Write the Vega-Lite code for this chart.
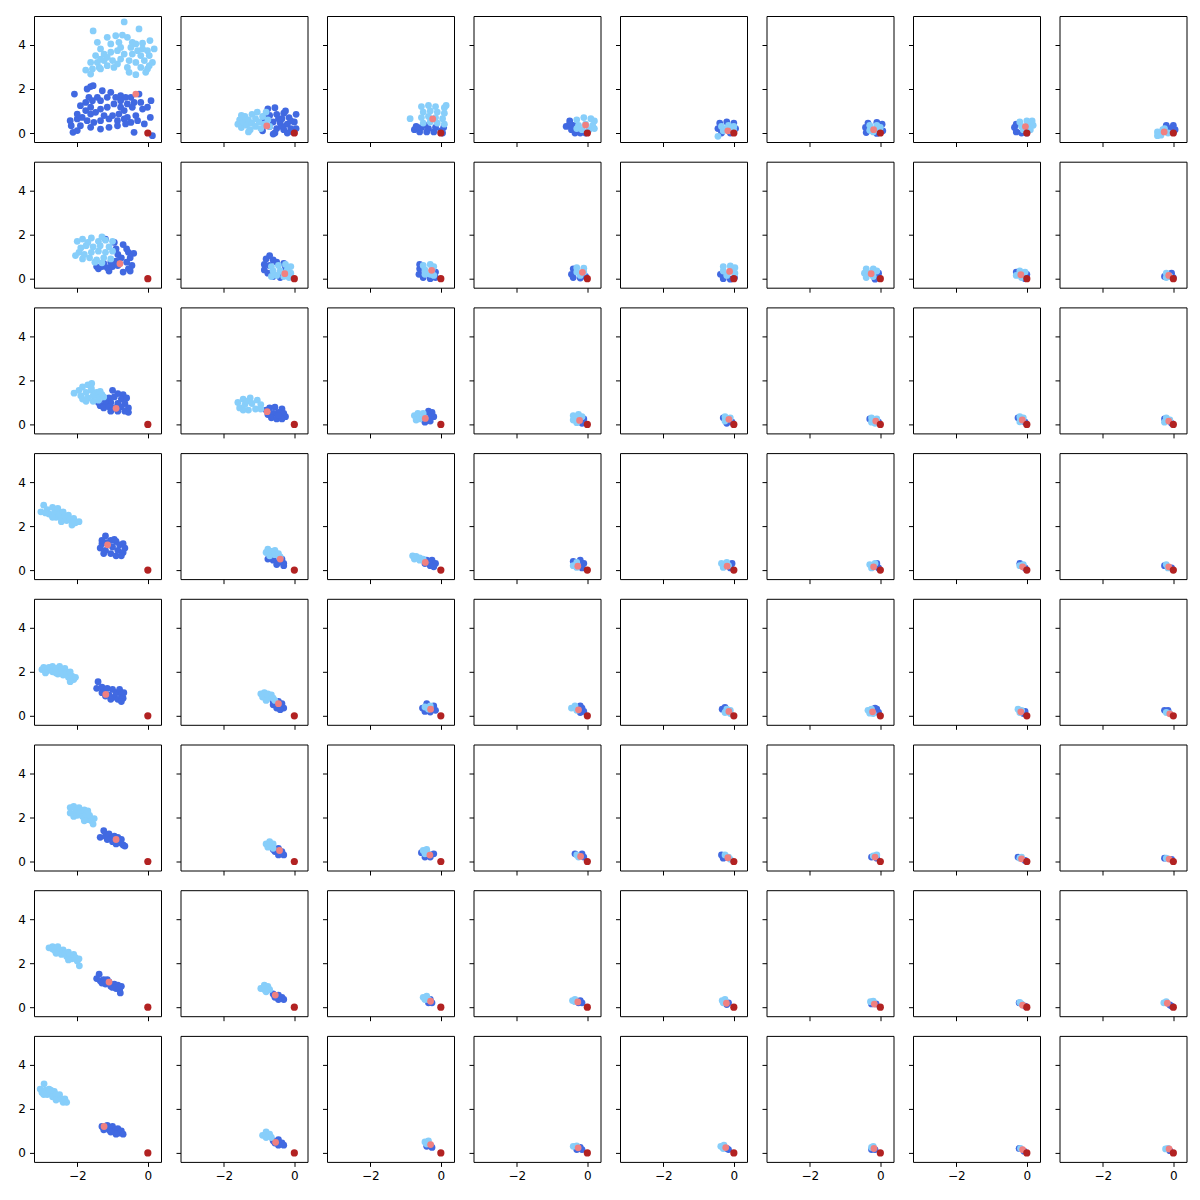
{
"$schema":"https://vega.github.io/schema/vega-lite/v6.json",
"padding":{"left":17,"top":15,"right":5,"bottom":5},
"background":"white",
"config":{"view":{"stroke":"#000","strokeWidth":1,"continuousWidth":127,"continuousHeight":126},"circle":{"opacity":1,"size":46},"range":{"category":["#4169E1","#87CEFA","#B22222","#F08080"]},"axis":{"grid":false,"domain":false,"ticks":true,"tickColor":"#000","tickSize":4.5,"tickWidth":1,"labelColor":"#000","labelFont":"DejaVu Sans","labelFontSize":12,"labelPadding":4}},
"data":{"values":[
{"p":0,"g":"b","x":-2.08,"y":1.77},{"p":0,"g":"b","x":-1.72,"y":2.0},{"p":0,"g":"b","x":-1.62,"y":2.11},{"p":0,"g":"b","x":-1.55,"y":2.15},{"p":0,"g":"b","x":-1.29,"y":1.92},{"p":0,"g":"b","x":-1.05,"y":1.85},{"p":0,"g":"b","x":-1.43,"y":1.62},{"p":0,"g":"b","x":-1.67,"y":1.62},{"p":0,"g":"b","x":-1.91,"y":1.24},{"p":0,"g":"b","x":-1.76,"y":1.39},{"p":0,"g":"b","x":-1.57,"y":1.47},{"p":0,"g":"b","x":-1.34,"y":1.47},{"p":0,"g":"b","x":-1.15,"y":1.62},{"p":0,"g":"b","x":-0.91,"y":1.62},{"p":0,"g":"b","x":-0.77,"y":1.7},{"p":0,"g":"b","x":-0.63,"y":1.62},{"p":0,"g":"b","x":-0.48,"y":1.62},{"p":0,"g":"b","x":-0.25,"y":1.77},{"p":0,"g":"b","x":-0.77,"y":1.47},{"p":0,"g":"b","x":-0.58,"y":1.32},{"p":0,"g":"b","x":-0.39,"y":1.39},{"p":0,"g":"b","x":-0.2,"y":1.39},{"p":0,"g":"b","x":0.09,"y":1.47},{"p":0,"g":"b","x":-0.96,"y":1.32},{"p":0,"g":"b","x":-1.15,"y":1.17},{"p":0,"g":"b","x":-1.34,"y":1.09},{"p":0,"g":"b","x":-1.62,"y":1.17},{"p":0,"g":"b","x":-1.76,"y":1.02},{"p":0,"g":"b","x":-1.48,"y":0.94},{"p":0,"g":"b","x":-1.24,"y":0.79},{"p":0,"g":"b","x":-1.0,"y":0.79},{"p":0,"g":"b","x":-0.82,"y":0.86},{"p":0,"g":"b","x":-0.67,"y":1.02},{"p":0,"g":"b","x":-0.44,"y":1.17},{"p":0,"g":"b","x":-0.15,"y":1.09},{"p":0,"g":"b","x":-0.01,"y":1.17},{"p":0,"g":"b","x":-0.58,"y":0.71},{"p":0,"g":"b","x":-0.34,"y":0.79},{"p":0,"g":"b","x":0.07,"y":0.71},{"p":0,"g":"b","x":-2.2,"y":0.56},{"p":0,"g":"b","x":-2.0,"y":0.64},{"p":0,"g":"b","x":-1.86,"y":0.71},{"p":0,"g":"b","x":-1.72,"y":0.56},{"p":0,"g":"b","x":-1.53,"y":0.48},{"p":0,"g":"b","x":-1.34,"y":0.56},{"p":0,"g":"b","x":-1.1,"y":0.64},{"p":0,"g":"b","x":-0.86,"y":0.56},{"p":0,"g":"b","x":-0.67,"y":0.64},{"p":0,"g":"b","x":-0.48,"y":0.48},{"p":0,"g":"b","x":-0.29,"y":0.56},{"p":0,"g":"b","x":-0.1,"y":0.41},{"p":0,"g":"b","x":-2.17,"y":0.33},{"p":0,"g":"b","x":-1.91,"y":0.33},{"p":0,"g":"b","x":-1.62,"y":0.26},{"p":0,"g":"b","x":-1.34,"y":0.18},{"p":0,"g":"b","x":-1.1,"y":0.26},{"p":0,"g":"b","x":-0.86,"y":0.33},{"p":0,"g":"b","x":-0.63,"y":0.41},{"p":0,"g":"b","x":-2.12,"y":0.03},{"p":0,"g":"b","x":-2.0,"y":0.11},{"p":0,"g":"b","x":-0.39,"y":0.03},{"p":0,"g":"b","x":0.13,"y":-0.12},{"p":0,"g":"b","x":-0.77,"y":1.17},{"p":0,"g":"b","x":-2.0,"y":0.86},{"p":0,"g":"b","x":-1.62,"y":0.86},
{"p":0,"g":"l","x":-1.55,"y":4.64},{"p":0,"g":"l","x":-0.67,"y":5.05},{"p":0,"g":"l","x":-0.25,"y":4.73},{"p":0,"g":"l","x":-1.43,"y":4.12},{"p":0,"g":"l","x":-1.15,"y":4.35},{"p":0,"g":"l","x":-0.91,"y":4.42},{"p":0,"g":"l","x":-0.72,"y":4.45},{"p":0,"g":"l","x":-0.58,"y":4.35},{"p":0,"g":"l","x":-0.34,"y":4.05},{"p":0,"g":"l","x":-0.15,"y":4.08},{"p":0,"g":"l","x":0.06,"y":4.2},{"p":0,"g":"l","x":0.18,"y":3.82},{"p":0,"g":"l","x":-1.34,"y":3.82},{"p":0,"g":"l","x":-1.05,"y":4.05},{"p":0,"g":"l","x":-0.82,"y":4.12},{"p":0,"g":"l","x":-0.48,"y":3.89},{"p":0,"g":"l","x":-0.29,"y":3.74},{"p":0,"g":"l","x":-0.01,"y":3.74},{"p":0,"g":"l","x":-1.48,"y":3.52},{"p":0,"g":"l","x":-1.24,"y":3.59},{"p":0,"g":"l","x":-1.05,"y":3.67},{"p":0,"g":"l","x":-0.86,"y":3.74},{"p":0,"g":"l","x":-0.67,"y":3.59},{"p":0,"g":"l","x":-0.44,"y":3.59},{"p":0,"g":"l","x":-0.2,"y":3.52},{"p":0,"g":"l","x":0.04,"y":3.52},{"p":0,"g":"l","x":-1.62,"y":3.21},{"p":0,"g":"l","x":-1.43,"y":3.21},{"p":0,"g":"l","x":-1.24,"y":3.29},{"p":0,"g":"l","x":-1.0,"y":3.29},{"p":0,"g":"l","x":-0.77,"y":3.36},{"p":0,"g":"l","x":-0.53,"y":3.29},{"p":0,"g":"l","x":-0.34,"y":3.21},{"p":0,"g":"l","x":-0.1,"y":3.29},{"p":0,"g":"l","x":0.13,"y":3.21},{"p":0,"g":"l","x":-1.76,"y":2.86},{"p":0,"g":"l","x":-1.57,"y":2.91},{"p":0,"g":"l","x":-1.38,"y":2.98},{"p":0,"g":"l","x":-1.15,"y":3.06},{"p":0,"g":"l","x":-0.96,"y":2.98},{"p":0,"g":"l","x":-0.58,"y":2.98},{"p":0,"g":"l","x":-0.2,"y":2.98},{"p":0,"g":"l","x":-0.01,"y":2.91},{"p":0,"g":"l","x":-1.62,"y":2.68},{"p":0,"g":"l","x":-1.34,"y":2.91},{"p":0,"g":"l","x":-0.34,"y":2.65},{"p":0,"g":"l","x":-0.53,"y":2.76},{"p":0,"g":"l","x":-0.86,"y":3.14},{"p":0,"g":"l","x":-0.06,"y":2.76},{"p":0,"g":"l","x":0.04,"y":3.06},{"p":0,"g":"l","x":-1.15,"y":3.44},{"p":0,"g":"l","x":-0.77,"y":3.89},{"p":0,"g":"l","x":-0.44,"y":4.12},{"p":0,"g":"l","x":-0.15,"y":3.82},{"p":0,"g":"l","x":-1.34,"y":3.36},
{"p":0,"g":"s","x":-0.34,"y":1.77},{"p":0,"g":"r","x":0,"y":0},
{"p":1,"g":"b","x":-0.75,"y":1.1},{"p":1,"g":"b","x":-0.55,"y":1.15},{"p":1,"g":"b","x":-0.3,"y":0.9},{"p":1,"g":"b","x":0.05,"y":0.85},{"p":1,"g":"b","x":-0.85,"y":0.6},{"p":1,"g":"b","x":-0.7,"y":0.8},{"p":1,"g":"b","x":-0.5,"y":0.85},{"p":1,"g":"b","x":-0.35,"y":0.65},{"p":1,"g":"b","x":-0.15,"y":0.7},{"p":1,"g":"b","x":-0.6,"y":0.5},{"p":1,"g":"b","x":-0.4,"y":0.45},{"p":1,"g":"b","x":-0.2,"y":0.4},{"p":1,"g":"b","x":0.0,"y":0.5},{"p":1,"g":"b","x":-0.7,"y":0.3},{"p":1,"g":"b","x":-0.5,"y":0.2},{"p":1,"g":"b","x":-0.3,"y":0.15},{"p":1,"g":"b","x":-0.1,"y":0.2},{"p":1,"g":"b","x":0.05,"y":0.2},{"p":1,"g":"b","x":-0.55,"y":0.0},{"p":1,"g":"b","x":-0.2,"y":0.0},{"p":1,"g":"b","x":-0.05,"y":0.05},{"p":1,"g":"b","x":-0.9,"y":0.1},{"p":1,"g":"b","x":-0.45,"y":0.65},{"p":1,"g":"b","x":-0.25,"y":1.0},{"p":1,"g":"b","x":-0.1,"y":0.55},{"p":1,"g":"b","x":-0.6,"y":-0.05},{"p":1,"g":"b","x":-0.35,"y":0.3},{"p":1,"g":"b","x":-0.8,"y":0.85},
{"p":1,"g":"l","x":-1.6,"y":0.4},{"p":1,"g":"l","x":-1.55,"y":0.6},{"p":1,"g":"l","x":-1.5,"y":0.25},{"p":1,"g":"l","x":-1.45,"y":0.5},{"p":1,"g":"l","x":-1.4,"y":0.75},{"p":1,"g":"l","x":-1.35,"y":0.35},{"p":1,"g":"l","x":-1.3,"y":0.6},{"p":1,"g":"l","x":-1.25,"y":0.15},{"p":1,"g":"l","x":-1.2,"y":0.85},{"p":1,"g":"l","x":-1.2,"y":0.45},{"p":1,"g":"l","x":-1.1,"y":0.3},{"p":1,"g":"l","x":-1.1,"y":0.65},{"p":1,"g":"l","x":-1.05,"y":0.95},{"p":1,"g":"l","x":-1.0,"y":0.5},{"p":1,"g":"l","x":-0.95,"y":0.2},{"p":1,"g":"l","x":-0.9,"y":0.75},{"p":1,"g":"l","x":-0.85,"y":0.4},{"p":1,"g":"l","x":-0.8,"y":0.95},{"p":1,"g":"l","x":-0.75,"y":0.6},{"p":1,"g":"l","x":-0.7,"y":0.3},{"p":1,"g":"l","x":-1.5,"y":0.8},{"p":1,"g":"l","x":-1.3,"y":0.05},
{"p":1,"g":"s","x":-0.78,"y":0.32},{"p":1,"g":"r","x":0,"y":0},
{"p":2,"g":"b","x":-0.75,"y":0.15},{"p":2,"g":"b","x":-0.6,"y":0.05},{"p":2,"g":"b","x":-0.55,"y":0.25},{"p":2,"g":"b","x":-0.4,"y":0.05},{"p":2,"g":"b","x":-0.35,"y":0.2},{"p":2,"g":"b","x":-0.2,"y":0.05},{"p":2,"g":"b","x":-0.15,"y":0.25},{"p":2,"g":"b","x":0.0,"y":0.1},{"p":2,"g":"b","x":0.08,"y":0.25},{"p":2,"g":"b","x":-0.7,"y":0.3},{"p":2,"g":"b","x":-0.45,"y":0.35},{"p":2,"g":"b","x":0.05,"y":0.0},
{"p":2,"g":"l","x":-0.55,"y":1.2},{"p":2,"g":"l","x":-0.35,"y":1.25},{"p":2,"g":"l","x":-0.15,"y":1.2},{"p":2,"g":"l","x":0.1,"y":1.15},{"p":2,"g":"l","x":-0.5,"y":0.95},{"p":2,"g":"l","x":-0.3,"y":1.0},{"p":2,"g":"l","x":-0.1,"y":0.95},{"p":2,"g":"l","x":0.1,"y":0.9},{"p":2,"g":"l","x":-0.55,"y":0.7},{"p":2,"g":"l","x":-0.35,"y":0.75},{"p":2,"g":"l","x":-0.15,"y":0.7},{"p":2,"g":"l","x":0.05,"y":0.65},{"p":2,"g":"l","x":-0.5,"y":0.45},{"p":2,"g":"l","x":-0.3,"y":0.5},{"p":2,"g":"l","x":-0.1,"y":0.45},{"p":2,"g":"l","x":0.1,"y":0.4},{"p":2,"g":"l","x":-0.87,"y":0.65},{"p":2,"g":"l","x":0.15,"y":1.25},
{"p":2,"g":"s","x":-0.23,"y":0.64},{"p":2,"g":"r","x":0,"y":0},
{"p":3,"g":"b","x":-0.6,"y":0.3},{"p":3,"g":"b","x":-0.5,"y":0.55},{"p":3,"g":"b","x":-0.45,"y":0.15},{"p":3,"g":"b","x":-0.4,"y":0.35},{"p":3,"g":"b","x":-0.35,"y":0.0},{"p":3,"g":"b","x":-0.2,"y":0.0},{"p":3,"g":"b","x":-0.05,"y":0.0},{"p":3,"g":"b","x":-0.5,"y":0.4},
{"p":3,"g":"l","x":-0.3,"y":0.6},{"p":3,"g":"l","x":-0.1,"y":0.7},{"p":3,"g":"l","x":0.1,"y":0.65},{"p":3,"g":"l","x":0.2,"y":0.55},{"p":3,"g":"l","x":-0.25,"y":0.35},{"p":3,"g":"l","x":-0.05,"y":0.4},{"p":3,"g":"l","x":0.15,"y":0.35},{"p":3,"g":"l","x":-0.15,"y":0.15},{"p":3,"g":"l","x":0.05,"y":0.15},{"p":3,"g":"l","x":0.2,"y":0.2},{"p":3,"g":"l","x":-0.3,"y":0.2},
{"p":3,"g":"s","x":-0.05,"y":0.36},{"p":3,"g":"r","x":0,"y":0},
{"p":4,"g":"b","x":-0.4,"y":0.45},{"p":4,"g":"b","x":-0.2,"y":0.5},{"p":4,"g":"b","x":0.0,"y":0.45},{"p":4,"g":"b","x":-0.45,"y":0.2},{"p":4,"g":"b","x":0.05,"y":0.2},{"p":4,"g":"b","x":-0.35,"y":0.0},{"p":4,"g":"b","x":-0.1,"y":0.0},
{"p":4,"g":"l","x":-0.35,"y":0.3},{"p":4,"g":"l","x":-0.15,"y":0.35},{"p":4,"g":"l","x":0.0,"y":0.3},{"p":4,"g":"l","x":-0.3,"y":0.1},{"p":4,"g":"l","x":-0.1,"y":0.1},{"p":4,"g":"l","x":0.0,"y":0.1},{"p":4,"g":"l","x":-0.45,"y":-0.15},{"p":4,"g":"l","x":-0.2,"y":0.2},
{"p":4,"g":"s","x":-0.17,"y":0.1},{"p":4,"g":"r","x":0,"y":0},
{"p":5,"g":"b","x":-0.42,"y":0.25},{"p":5,"g":"b","x":-0.35,"y":0.45},{"p":5,"g":"b","x":-0.1,"y":0.48},{"p":5,"g":"b","x":0.05,"y":0.4},{"p":5,"g":"b","x":0.07,"y":0.1},{"p":5,"g":"b","x":-0.4,"y":0.02},{"p":5,"g":"b","x":-0.1,"y":-0.02},
{"p":5,"g":"l","x":-0.3,"y":0.35},{"p":5,"g":"l","x":-0.1,"y":0.35},{"p":5,"g":"l","x":0.0,"y":0.25},{"p":5,"g":"l","x":-0.3,"y":0.12},{"p":5,"g":"l","x":-0.12,"y":0.15},{"p":5,"g":"l","x":-0.2,"y":0.05},
{"p":5,"g":"s","x":-0.19,"y":0.15},{"p":5,"g":"r","x":0,"y":0},
{"p":6,"g":"b","x":-0.35,"y":0.25},{"p":6,"g":"b","x":-0.3,"y":0.05},{"p":6,"g":"b","x":-0.15,"y":0.0},{"p":6,"g":"b","x":0.0,"y":0.0},{"p":6,"g":"b","x":-0.3,"y":0.4},
{"p":6,"g":"l","x":-0.2,"y":0.5},{"p":6,"g":"l","x":0.0,"y":0.55},{"p":6,"g":"l","x":0.15,"y":0.55},{"p":6,"g":"l","x":-0.15,"y":0.3},{"p":6,"g":"l","x":0.05,"y":0.35},{"p":6,"g":"l","x":0.18,"y":0.35},{"p":6,"g":"l","x":0.1,"y":0.15},{"p":6,"g":"l","x":-0.1,"y":0.15},
{"p":6,"g":"s","x":-0.04,"y":0.29},{"p":6,"g":"r","x":0,"y":0},
{"p":7,"g":"b","x":-0.2,"y":0.35},{"p":7,"g":"b","x":0.0,"y":0.35},{"p":7,"g":"b","x":0.05,"y":0.15},{"p":7,"g":"b","x":-0.1,"y":0.2},
{"p":7,"g":"l","x":-0.45,"y":0.05},{"p":7,"g":"l","x":-0.35,"y":-0.1},{"p":7,"g":"l","x":-0.3,"y":0.15},{"p":7,"g":"l","x":-0.15,"y":0.0},{"p":7,"g":"l","x":-0.45,"y":-0.12},{"p":7,"g":"l","x":-0.25,"y":0.2},
{"p":7,"g":"s","x":-0.26,"y":0.05},{"p":7,"g":"r","x":0,"y":0},
{"p":8,"g":"b","x":-1.2,"y":1.8},{"p":8,"g":"b","x":-0.95,"y":1.65},{"p":8,"g":"b","x":-0.7,"y":1.55},{"p":8,"g":"b","x":-0.9,"y":1.35},{"p":8,"g":"b","x":-0.6,"y":1.35},{"p":8,"g":"b","x":-0.85,"y":1.1},{"p":8,"g":"b","x":-0.55,"y":1.2},{"p":8,"g":"b","x":-0.4,"y":1.15},{"p":8,"g":"b","x":-0.75,"y":0.95},{"p":8,"g":"b","x":-0.5,"y":0.95},{"p":8,"g":"b","x":-1.45,"y":0.55},{"p":8,"g":"b","x":-1.3,"y":0.55},{"p":8,"g":"b","x":-1.15,"y":0.5},{"p":8,"g":"b","x":-1.0,"y":0.55},{"p":8,"g":"b","x":-0.85,"y":0.6},{"p":8,"g":"b","x":-0.6,"y":0.75},{"p":8,"g":"b","x":-0.45,"y":0.6},{"p":8,"g":"b","x":-1.4,"y":0.45},{"p":8,"g":"b","x":-1.1,"y":0.35},{"p":8,"g":"b","x":-0.55,"y":0.45},{"p":8,"g":"b","x":-0.7,"y":0.3},{"p":8,"g":"b","x":-0.5,"y":0.35},{"p":8,"g":"b","x":-0.9,"y":0.8},{"p":8,"g":"b","x":-1.05,"y":0.75},{"p":8,"g":"b","x":-1.25,"y":0.7},
{"p":8,"g":"l","x":-2.0,"y":1.7},{"p":8,"g":"l","x":-1.85,"y":1.8},{"p":8,"g":"l","x":-1.6,"y":1.85},{"p":8,"g":"l","x":-1.4,"y":1.7},{"p":8,"g":"l","x":-1.2,"y":1.75},{"p":8,"g":"l","x":-1.0,"y":1.7},{"p":8,"g":"l","x":-2.05,"y":1.05},{"p":8,"g":"l","x":-1.9,"y":1.4},{"p":8,"g":"l","x":-1.75,"y":1.5},{"p":8,"g":"l","x":-1.55,"y":1.45},{"p":8,"g":"l","x":-1.35,"y":1.5},{"p":8,"g":"l","x":-1.1,"y":1.45},{"p":8,"g":"l","x":-1.95,"y":1.2},{"p":8,"g":"l","x":-1.8,"y":1.1},{"p":8,"g":"l","x":-1.6,"y":1.2},{"p":8,"g":"l","x":-1.4,"y":1.25},{"p":8,"g":"l","x":-1.2,"y":1.2},{"p":8,"g":"l","x":-1.0,"y":1.25},{"p":8,"g":"l","x":-1.85,"y":0.9},{"p":8,"g":"l","x":-1.65,"y":0.95},{"p":8,"g":"l","x":-1.45,"y":0.85},{"p":8,"g":"l","x":-1.25,"y":0.95},{"p":8,"g":"l","x":-1.05,"y":0.9},{"p":8,"g":"l","x":-1.5,"y":0.75},{"p":8,"g":"l","x":-1.3,"y":0.72},{"p":8,"g":"l","x":-1.7,"y":1.65},{"p":8,"g":"l","x":-1.3,"y":1.9},
{"p":8,"g":"s","x":-0.79,"y":0.68},{"p":8,"g":"r","x":0,"y":0},
{"p":9,"g":"b","x":-0.85,"y":0.65},{"p":9,"g":"b","x":-0.8,"y":0.9},{"p":9,"g":"b","x":-0.7,"y":1.05},{"p":9,"g":"b","x":-0.6,"y":0.85},{"p":9,"g":"b","x":-0.85,"y":0.4},{"p":9,"g":"b","x":-0.7,"y":0.6},{"p":9,"g":"b","x":-0.5,"y":0.75},{"p":9,"g":"b","x":-0.3,"y":0.7},{"p":9,"g":"b","x":-0.75,"y":0.25},{"p":9,"g":"b","x":-0.6,"y":0.1},{"p":9,"g":"b","x":-0.4,"y":0.05},{"p":9,"g":"b","x":-0.25,"y":0.5},
{"p":9,"g":"l","x":-0.65,"y":0.55},{"p":9,"g":"l","x":-0.45,"y":0.6},{"p":9,"g":"l","x":-0.25,"y":0.65},{"p":9,"g":"l","x":-0.1,"y":0.55},{"p":9,"g":"l","x":-0.6,"y":0.35},{"p":9,"g":"l","x":-0.4,"y":0.35},{"p":9,"g":"l","x":-0.2,"y":0.4},{"p":9,"g":"l","x":-0.1,"y":0.25},{"p":9,"g":"l","x":-0.5,"y":0.15},{"p":9,"g":"l","x":-0.3,"y":0.1},{"p":9,"g":"l","x":-0.15,"y":0.05},{"p":9,"g":"l","x":-0.65,"y":0.1},
{"p":9,"g":"s","x":-0.27,"y":0.23},{"p":9,"g":"r","x":0,"y":0},
{"p":10,"g":"b","x":-0.62,"y":0.2},{"p":10,"g":"b","x":-0.6,"y":0.45},{"p":10,"g":"b","x":-0.5,"y":0.05},{"p":10,"g":"b","x":-0.3,"y":0.0},{"p":10,"g":"b","x":-0.15,"y":0.05},{"p":10,"g":"b","x":-0.6,"y":0.65},{"p":10,"g":"b","x":-0.15,"y":0.3},
{"p":10,"g":"l","x":-0.5,"y":0.6},{"p":10,"g":"l","x":-0.3,"y":0.65},{"p":10,"g":"l","x":-0.2,"y":0.55},{"p":10,"g":"l","x":-0.45,"y":0.4},{"p":10,"g":"l","x":-0.25,"y":0.4},{"p":10,"g":"l","x":-0.45,"y":0.2},{"p":10,"g":"l","x":-0.3,"y":0.2},{"p":10,"g":"l","x":-0.2,"y":0.15},
{"p":10,"g":"s","x":-0.26,"y":0.38},{"p":10,"g":"r","x":0,"y":0},
{"p":11,"g":"b","x":-0.45,"y":0.2},{"p":11,"g":"b","x":-0.4,"y":0.05},{"p":11,"g":"b","x":-0.2,"y":0.03},{"p":11,"g":"b","x":-0.05,"y":0.1},{"p":11,"g":"b","x":-0.4,"y":0.45},
{"p":11,"g":"l","x":-0.3,"y":0.5},{"p":11,"g":"l","x":-0.1,"y":0.48},{"p":11,"g":"l","x":-0.3,"y":0.3},{"p":11,"g":"l","x":-0.1,"y":0.3},{"p":11,"g":"l","x":-0.2,"y":0.15},
{"p":11,"g":"s","x":-0.14,"y":0.29},{"p":11,"g":"r","x":0,"y":0},
{"p":12,"g":"b","x":-0.38,"y":0.2},{"p":12,"g":"b","x":-0.3,"y":0.0},{"p":12,"g":"b","x":-0.1,"y":-0.02},{"p":12,"g":"b","x":0.02,"y":0.05},
{"p":12,"g":"l","x":-0.3,"y":0.55},{"p":12,"g":"l","x":-0.1,"y":0.58},{"p":12,"g":"l","x":0.03,"y":0.5},{"p":12,"g":"l","x":-0.3,"y":0.35},{"p":12,"g":"l","x":-0.1,"y":0.35},{"p":12,"g":"l","x":0.03,"y":0.25},{"p":12,"g":"l","x":-0.2,"y":0.15},
{"p":12,"g":"s","x":-0.12,"y":0.33},{"p":12,"g":"r","x":0,"y":0},
{"p":13,"g":"b","x":-0.05,"y":0.05},{"p":13,"g":"b","x":-0.15,"y":-0.02},{"p":13,"g":"b","x":-0.05,"y":0.25},
{"p":13,"g":"l","x":-0.45,"y":0.25},{"p":13,"g":"l","x":-0.4,"y":0.45},{"p":13,"g":"l","x":-0.2,"y":0.45},{"p":13,"g":"l","x":-0.3,"y":0.25},{"p":13,"g":"l","x":-0.1,"y":0.35},{"p":13,"g":"l","x":-0.4,"y":0.05},{"p":13,"g":"l","x":-0.2,"y":0.1},
{"p":13,"g":"s","x":-0.26,"y":0.23},{"p":13,"g":"r","x":0,"y":0},
{"p":14,"g":"b","x":-0.05,"y":0.0},{"p":14,"g":"b","x":0.0,"y":0.2},{"p":14,"g":"b","x":-0.3,"y":0.3},
{"p":14,"g":"l","x":-0.3,"y":0.15},{"p":14,"g":"l","x":-0.2,"y":0.35},{"p":14,"g":"l","x":-0.05,"y":0.3},{"p":14,"g":"l","x":-0.15,"y":0.05},
{"p":14,"g":"s","x":-0.17,"y":0.18},{"p":14,"g":"r","x":0,"y":0},
{"p":15,"g":"b","x":-0.25,"y":0.1},{"p":15,"g":"b","x":0.0,"y":0.05},{"p":15,"g":"b","x":-0.05,"y":0.25},
{"p":15,"g":"l","x":-0.2,"y":0.25},{"p":15,"g":"l","x":-0.1,"y":0.1},{"p":15,"g":"l","x":-0.2,"y":0.05},
{"p":15,"g":"s","x":-0.13,"y":0.15},{"p":15,"g":"r","x":0,"y":0},
{"p":16,"g":"b","x":-1.0,"y":1.55},{"p":16,"g":"b","x":-0.85,"y":1.4},{"p":16,"g":"b","x":-0.7,"y":1.35},{"p":16,"g":"b","x":-1.1,"y":1.2},{"p":16,"g":"b","x":-0.95,"y":1.25},{"p":16,"g":"b","x":-0.75,"y":1.15},{"p":16,"g":"b","x":-0.6,"y":1.2},{"p":16,"g":"b","x":-1.35,"y":0.85},{"p":16,"g":"b","x":-1.2,"y":0.95},{"p":16,"g":"b","x":-1.05,"y":1.0},{"p":16,"g":"b","x":-0.85,"y":0.95},{"p":16,"g":"b","x":-0.65,"y":0.95},{"p":16,"g":"b","x":-0.55,"y":0.75},{"p":16,"g":"b","x":-1.25,"y":0.75},{"p":16,"g":"b","x":-1.1,"y":0.8},{"p":16,"g":"b","x":-0.95,"y":0.75},{"p":16,"g":"b","x":-0.75,"y":0.8},{"p":16,"g":"b","x":-1.05,"y":0.6},{"p":16,"g":"b","x":-0.85,"y":0.6},{"p":16,"g":"b","x":-0.65,"y":0.6},{"p":16,"g":"b","x":-0.55,"y":0.55},{"p":16,"g":"b","x":-1.2,"y":1.05},{"p":16,"g":"b","x":-1.4,"y":1.0},
{"p":16,"g":"l","x":-2.09,"y":1.42},{"p":16,"g":"l","x":-1.95,"y":1.55},{"p":16,"g":"l","x":-1.85,"y":1.7},{"p":16,"g":"l","x":-1.7,"y":1.8},{"p":16,"g":"l","x":-1.59,"y":1.86},{"p":16,"g":"l","x":-1.9,"y":1.3},{"p":16,"g":"l","x":-1.75,"y":1.45},{"p":16,"g":"l","x":-1.6,"y":1.55},{"p":16,"g":"l","x":-1.45,"y":1.45},{"p":16,"g":"l","x":-1.3,"y":1.35},{"p":16,"g":"l","x":-1.85,"y":1.15},{"p":16,"g":"l","x":-1.7,"y":1.2},{"p":16,"g":"l","x":-1.55,"y":1.3},{"p":16,"g":"l","x":-1.4,"y":1.2},{"p":16,"g":"l","x":-1.25,"y":1.25},{"p":16,"g":"l","x":-1.75,"y":1.05},{"p":16,"g":"l","x":-1.55,"y":1.05},{"p":16,"g":"l","x":-1.4,"y":1.1},{"p":16,"g":"l","x":-1.6,"y":1.65},{"p":16,"g":"l","x":-1.35,"y":1.5},
{"p":16,"g":"s","x":-0.9,"y":0.73},{"p":16,"g":"r","x":0,"y":0},
{"p":17,"g":"b","x":-0.8,"y":0.65},{"p":17,"g":"b","x":-0.7,"y":0.75},{"p":17,"g":"b","x":-0.55,"y":0.78},{"p":17,"g":"b","x":-0.35,"y":0.7},{"p":17,"g":"b","x":-0.75,"y":0.45},{"p":17,"g":"b","x":-0.6,"y":0.5},{"p":17,"g":"b","x":-0.45,"y":0.55},{"p":17,"g":"b","x":-0.3,"y":0.5},{"p":17,"g":"b","x":-0.25,"y":0.35},{"p":17,"g":"b","x":-0.65,"y":0.3},{"p":17,"g":"b","x":-0.5,"y":0.25},{"p":17,"g":"b","x":-0.35,"y":0.25},{"p":17,"g":"b","x":-0.45,"y":0.4},
{"p":17,"g":"l","x":-1.6,"y":1.0},{"p":17,"g":"l","x":-1.55,"y":0.75},{"p":17,"g":"l","x":-1.45,"y":1.15},{"p":17,"g":"l","x":-1.4,"y":0.9},{"p":17,"g":"l","x":-1.3,"y":0.65},{"p":17,"g":"l","x":-1.25,"y":1.2},{"p":17,"g":"l","x":-1.2,"y":0.95},{"p":17,"g":"l","x":-1.1,"y":0.7},{"p":17,"g":"l","x":-1.05,"y":1.1},{"p":17,"g":"l","x":-0.95,"y":0.9},{"p":17,"g":"l","x":-1.45,"y":0.65},{"p":17,"g":"l","x":-0.95,"y":0.7},{"p":17,"g":"l","x":-1.35,"y":1.05},
{"p":17,"g":"s","x":-0.77,"y":0.58},{"p":17,"g":"r","x":0,"y":0},
{"p":18,"g":"b","x":-0.35,"y":0.6},{"p":18,"g":"b","x":-0.25,"y":0.55},{"p":18,"g":"b","x":-0.2,"y":0.35},{"p":18,"g":"b","x":-0.3,"y":0.15},{"p":18,"g":"b","x":-0.45,"y":0.1},{"p":18,"g":"b","x":-0.35,"y":0.4},
{"p":18,"g":"l","x":-0.75,"y":0.4},{"p":18,"g":"l","x":-0.65,"y":0.5},{"p":18,"g":"l","x":-0.5,"y":0.5},{"p":18,"g":"l","x":-0.6,"y":0.25},{"p":18,"g":"l","x":-0.45,"y":0.3},{"p":18,"g":"l","x":-0.7,"y":0.2},
{"p":18,"g":"s","x":-0.44,"y":0.27},{"p":18,"g":"r","x":0,"y":0},
{"p":19,"g":"b","x":-0.1,"y":0.25},{"p":19,"g":"b","x":-0.15,"y":0.05},
{"p":19,"g":"l","x":-0.4,"y":0.4},{"p":19,"g":"l","x":-0.25,"y":0.45},{"p":19,"g":"l","x":-0.4,"y":0.2},{"p":19,"g":"l","x":-0.25,"y":0.2},{"p":19,"g":"l","x":-0.15,"y":0.35},{"p":19,"g":"l","x":-0.3,"y":0.08},
{"p":19,"g":"s","x":-0.22,"y":0.18},{"p":19,"g":"r","x":0,"y":0},
{"p":20,"g":"b","x":-0.3,"y":0.3},{"p":20,"g":"b","x":-0.05,"y":0.1},{"p":20,"g":"b","x":-0.2,"y":0.05},
{"p":20,"g":"l","x":-0.25,"y":0.35},{"p":20,"g":"l","x":-0.1,"y":0.3},{"p":20,"g":"l","x":-0.25,"y":0.15},
{"p":20,"g":"s","x":-0.14,"y":0.23},{"p":20,"g":"r","x":0,"y":0},
{"p":21,"g":"b","x":-0.3,"y":0.25},{"p":21,"g":"b","x":-0.05,"y":0.1},
{"p":21,"g":"l","x":-0.25,"y":0.3},{"p":21,"g":"l","x":-0.1,"y":0.25},{"p":21,"g":"l","x":-0.25,"y":0.1},{"p":21,"g":"l","x":-0.15,"y":0.05},
{"p":21,"g":"s","x":-0.13,"y":0.15},{"p":21,"g":"r","x":0,"y":0},
{"p":22,"g":"b","x":-0.05,"y":0.1},{"p":22,"g":"b","x":-0.25,"y":0.3},
{"p":22,"g":"l","x":-0.2,"y":0.35},{"p":22,"g":"l","x":-0.1,"y":0.3},{"p":22,"g":"l","x":-0.2,"y":0.12},
{"p":22,"g":"s","x":-0.13,"y":0.2},{"p":22,"g":"r","x":0,"y":0},
{"p":23,"g":"b","x":-0.25,"y":0.25},{"p":23,"g":"b","x":-0.05,"y":0.05},
{"p":23,"g":"l","x":-0.2,"y":0.3},{"p":23,"g":"l","x":-0.1,"y":0.2},{"p":23,"g":"l","x":-0.25,"y":0.1},
{"p":23,"g":"s","x":-0.13,"y":0.15},{"p":23,"g":"r","x":0,"y":0},
{"p":24,"g":"b","x":-1.35,"y":1.0},{"p":24,"g":"b","x":-1.3,"y":1.2},{"p":24,"g":"b","x":-1.2,"y":1.55},{"p":24,"g":"b","x":-1.2,"y":0.9},{"p":24,"g":"b","x":-1.15,"y":1.25},{"p":24,"g":"b","x":-1.05,"y":1.35},{"p":24,"g":"b","x":-1.05,"y":0.75},{"p":24,"g":"b","x":-1.0,"y":1.05},{"p":24,"g":"b","x":-0.9,"y":1.3},{"p":24,"g":"b","x":-0.9,"y":0.65},{"p":24,"g":"b","x":-0.85,"y":0.9},{"p":24,"g":"b","x":-0.8,"y":1.15},{"p":24,"g":"b","x":-0.7,"y":1.2},{"p":24,"g":"b","x":-0.7,"y":0.8},{"p":24,"g":"b","x":-0.65,"y":1.0},{"p":24,"g":"b","x":-1.25,"y":0.75},{"p":24,"g":"b","x":-0.95,"y":1.4},{"p":24,"g":"b","x":-0.75,"y":0.65},{"p":24,"g":"b","x":-1.3,"y":1.35},
{"p":24,"g":"l","x":-3.03,"y":2.65},{"p":24,"g":"l","x":-2.95,"y":2.95},{"p":24,"g":"l","x":-2.85,"y":2.75},{"p":24,"g":"l","x":-2.8,"y":2.55},{"p":24,"g":"l","x":-2.7,"y":2.85},{"p":24,"g":"l","x":-2.65,"y":2.6},{"p":24,"g":"l","x":-2.6,"y":2.4},{"p":24,"g":"l","x":-2.55,"y":2.8},{"p":24,"g":"l","x":-2.5,"y":2.55},{"p":24,"g":"l","x":-2.45,"y":2.35},{"p":24,"g":"l","x":-2.4,"y":2.65},{"p":24,"g":"l","x":-2.35,"y":2.45},{"p":24,"g":"l","x":-2.3,"y":2.25},{"p":24,"g":"l","x":-2.25,"y":2.5},{"p":24,"g":"l","x":-2.2,"y":2.3},{"p":24,"g":"l","x":-2.1,"y":2.35},{"p":24,"g":"l","x":-2.05,"y":2.15},{"p":24,"g":"l","x":-1.95,"y":2.2},{"p":24,"g":"l","x":-2.7,"y":2.4},{"p":24,"g":"l","x":-2.9,"y":2.6},{"p":24,"g":"l","x":-2.45,"y":2.2},{"p":24,"g":"l","x":-2.15,"y":2.05},
{"p":24,"g":"s","x":-1.14,"y":1.15},{"p":24,"g":"r","x":0,"y":0},
{"p":25,"g":"b","x":-0.75,"y":0.5},{"p":25,"g":"b","x":-0.6,"y":0.45},{"p":25,"g":"b","x":-0.45,"y":0.35},{"p":25,"g":"b","x":-0.3,"y":0.3},{"p":25,"g":"b","x":-0.35,"y":0.5},{"p":25,"g":"b","x":-0.5,"y":0.25},{"p":25,"g":"b","x":-0.3,"y":0.2},{"p":25,"g":"b","x":-0.6,"y":0.55},
{"p":25,"g":"l","x":-0.8,"y":0.8},{"p":25,"g":"l","x":-0.75,"y":0.95},{"p":25,"g":"l","x":-0.65,"y":0.85},{"p":25,"g":"l","x":-0.55,"y":0.9},{"p":25,"g":"l","x":-0.7,"y":0.65},{"p":25,"g":"l","x":-0.55,"y":0.7},{"p":25,"g":"l","x":-0.45,"y":0.75},{"p":25,"g":"l","x":-0.4,"y":0.6},
{"p":25,"g":"s","x":-0.4,"y":0.5},{"p":25,"g":"r","x":0,"y":0},
{"p":26,"g":"b","x":-0.4,"y":0.45},{"p":26,"g":"b","x":-0.25,"y":0.45},{"p":26,"g":"b","x":-0.15,"y":0.3},{"p":26,"g":"b","x":-0.3,"y":0.2},{"p":26,"g":"b","x":-0.2,"y":0.15},{"p":26,"g":"b","x":-0.45,"y":0.3},
{"p":26,"g":"l","x":-0.8,"y":0.65},{"p":26,"g":"l","x":-0.7,"y":0.62},{"p":26,"g":"l","x":-0.6,"y":0.55},{"p":26,"g":"l","x":-0.5,"y":0.5},{"p":26,"g":"l","x":-0.75,"y":0.5},{"p":26,"g":"l","x":-0.6,"y":0.45},
{"p":26,"g":"s","x":-0.44,"y":0.35},{"p":26,"g":"r","x":0,"y":0},
{"p":27,"g":"b","x":-0.4,"y":0.4},{"p":27,"g":"b","x":-0.2,"y":0.45},{"p":27,"g":"b","x":-0.1,"y":0.3},{"p":27,"g":"b","x":-0.15,"y":0.1},
{"p":27,"g":"l","x":-0.4,"y":0.2},{"p":27,"g":"l","x":-0.3,"y":0.35},{"p":27,"g":"l","x":-0.3,"y":0.12},
{"p":27,"g":"s","x":-0.27,"y":0.18},{"p":27,"g":"r","x":0,"y":0},
{"p":28,"g":"b","x":-0.1,"y":0.1},{"p":28,"g":"b","x":-0.05,"y":0.3},
{"p":28,"g":"l","x":-0.35,"y":0.3},{"p":28,"g":"l","x":-0.2,"y":0.35},{"p":28,"g":"l","x":-0.3,"y":0.12},{"p":28,"g":"l","x":-0.15,"y":0.2},
{"p":28,"g":"s","x":-0.19,"y":0.18},{"p":28,"g":"r","x":0,"y":0},
{"p":29,"g":"b","x":-0.05,"y":0.1},{"p":29,"g":"b","x":-0.1,"y":0.3},
{"p":29,"g":"l","x":-0.3,"y":0.25},{"p":29,"g":"l","x":-0.25,"y":0.1},{"p":29,"g":"l","x":-0.15,"y":0.3},
{"p":29,"g":"s","x":-0.19,"y":0.15},{"p":29,"g":"r","x":0,"y":0},
{"p":30,"g":"b","x":-0.05,"y":0.1},{"p":30,"g":"b","x":-0.2,"y":0.3},
{"p":30,"g":"l","x":-0.2,"y":0.2},{"p":30,"g":"l","x":-0.1,"y":0.25},
{"p":30,"g":"s","x":-0.12,"y":0.15},{"p":30,"g":"r","x":0,"y":0},
{"p":31,"g":"b","x":-0.25,"y":0.2},{"p":31,"g":"b","x":-0.05,"y":0.1},
{"p":31,"g":"l","x":-0.2,"y":0.25},{"p":31,"g":"l","x":-0.15,"y":0.1},
{"p":31,"g":"s","x":-0.13,"y":0.15},{"p":31,"g":"r","x":0,"y":0},
{"p":32,"g":"b","x":-1.41,"y":1.55},{"p":32,"g":"b","x":-1.45,"y":1.25},{"p":32,"g":"b","x":-1.3,"y":1.3},{"p":32,"g":"b","x":-1.25,"y":1.1},{"p":32,"g":"b","x":-1.15,"y":1.25},{"p":32,"g":"b","x":-1.1,"y":0.95},{"p":32,"g":"b","x":-1.0,"y":1.2},{"p":32,"g":"b","x":-0.95,"y":0.85},{"p":32,"g":"b","x":-0.9,"y":1.05},{"p":32,"g":"b","x":-0.8,"y":1.2},{"p":32,"g":"b","x":-0.75,"y":0.95},{"p":32,"g":"b","x":-0.7,"y":0.8},{"p":32,"g":"b","x":-0.68,"y":1.05},{"p":32,"g":"b","x":-1.2,"y":0.9},{"p":32,"g":"b","x":-1.05,"y":0.75},{"p":32,"g":"b","x":-0.85,"y":0.75},{"p":32,"g":"b","x":-0.75,"y":0.65},{"p":32,"g":"b","x":-1.3,"y":1.05},
{"p":32,"g":"l","x":-3.0,"y":2.1},{"p":32,"g":"l","x":-2.95,"y":2.2},{"p":32,"g":"l","x":-2.85,"y":2.05},{"p":32,"g":"l","x":-2.8,"y":2.2},{"p":32,"g":"l","x":-2.7,"y":2.25},{"p":32,"g":"l","x":-2.7,"y":2.0},{"p":32,"g":"l","x":-2.6,"y":2.15},{"p":32,"g":"l","x":-2.55,"y":1.9},{"p":32,"g":"l","x":-2.5,"y":2.25},{"p":32,"g":"l","x":-2.45,"y":2.05},{"p":32,"g":"l","x":-2.4,"y":1.85},{"p":32,"g":"l","x":-2.35,"y":2.15},{"p":32,"g":"l","x":-2.3,"y":1.95},{"p":32,"g":"l","x":-2.25,"y":1.75},{"p":32,"g":"l","x":-2.2,"y":2.0},{"p":32,"g":"l","x":-2.15,"y":1.8},{"p":32,"g":"l","x":-2.1,"y":1.65},{"p":32,"g":"l","x":-2.05,"y":1.75},{"p":32,"g":"l","x":-2.6,"y":1.95},{"p":32,"g":"l","x":-2.9,"y":1.95},{"p":32,"g":"l","x":-2.2,"y":1.55},
{"p":32,"g":"s","x":-1.19,"y":0.97},{"p":32,"g":"r","x":0,"y":0},
{"p":33,"g":"b","x":-0.6,"y":0.5},{"p":33,"g":"b","x":-0.45,"y":0.65},{"p":33,"g":"b","x":-0.35,"y":0.55},{"p":33,"g":"b","x":-0.3,"y":0.35},{"p":33,"g":"b","x":-0.5,"y":0.35},{"p":33,"g":"b","x":-0.4,"y":0.28},{"p":33,"g":"b","x":-0.6,"y":0.65},
{"p":33,"g":"l","x":-0.95,"y":1.0},{"p":33,"g":"l","x":-0.85,"y":1.05},{"p":33,"g":"l","x":-0.75,"y":1.0},{"p":33,"g":"l","x":-0.65,"y":0.95},{"p":33,"g":"l","x":-0.9,"y":0.85},{"p":33,"g":"l","x":-0.75,"y":0.8},{"p":33,"g":"l","x":-0.6,"y":0.8},{"p":33,"g":"l","x":-0.55,"y":0.7},{"p":33,"g":"l","x":-0.8,"y":0.7},
{"p":33,"g":"s","x":-0.45,"y":0.55},{"p":33,"g":"r","x":0,"y":0},
{"p":34,"g":"b","x":-0.52,"y":0.35},{"p":34,"g":"b","x":-0.4,"y":0.55},{"p":34,"g":"b","x":-0.2,"y":0.45},{"p":34,"g":"b","x":-0.15,"y":0.25},{"p":34,"g":"b","x":-0.3,"y":0.17},{"p":34,"g":"b","x":-0.45,"y":0.2},
{"p":34,"g":"l","x":-0.45,"y":0.4},{"p":34,"g":"l","x":-0.3,"y":0.45},{"p":34,"g":"l","x":-0.35,"y":0.3},
{"p":34,"g":"s","x":-0.29,"y":0.3},{"p":34,"g":"r","x":0,"y":0},
{"p":35,"g":"b","x":-0.15,"y":0.35},{"p":35,"g":"b","x":-0.1,"y":0.2},{"p":35,"g":"b","x":-0.2,"y":0.15},{"p":35,"g":"b","x":-0.2,"y":0.45},
{"p":35,"g":"l","x":-0.45,"y":0.35},{"p":35,"g":"l","x":-0.35,"y":0.45},{"p":35,"g":"l","x":-0.3,"y":0.25},
{"p":35,"g":"s","x":-0.25,"y":0.27},{"p":35,"g":"r","x":0,"y":0},
{"p":36,"g":"b","x":-0.33,"y":0.3},{"p":36,"g":"b","x":-0.25,"y":0.38},
{"p":36,"g":"l","x":-0.2,"y":0.3},{"p":36,"g":"l","x":-0.1,"y":0.25},{"p":36,"g":"l","x":-0.25,"y":0.15},{"p":36,"g":"l","x":-0.1,"y":0.1},
{"p":36,"g":"s","x":-0.14,"y":0.2},{"p":36,"g":"r","x":0,"y":0},
{"p":37,"g":"b","x":-0.1,"y":0.3},{"p":37,"g":"b","x":-0.05,"y":0.15},{"p":37,"g":"b","x":-0.15,"y":0.35},
{"p":37,"g":"l","x":-0.35,"y":0.25},{"p":37,"g":"l","x":-0.25,"y":0.3},{"p":37,"g":"l","x":-0.3,"y":0.12},{"p":37,"g":"l","x":-0.2,"y":0.1},
{"p":37,"g":"s","x":-0.22,"y":0.18},{"p":37,"g":"r","x":0,"y":0},
{"p":38,"g":"b","x":-0.1,"y":0.1},{"p":38,"g":"b","x":-0.05,"y":0.2},
{"p":38,"g":"l","x":-0.25,"y":0.3},{"p":38,"g":"l","x":-0.2,"y":0.15},{"p":38,"g":"l","x":-0.15,"y":0.25},
{"p":38,"g":"s","x":-0.17,"y":0.18},{"p":38,"g":"r","x":0,"y":0},
{"p":39,"g":"b","x":-0.25,"y":0.25},{"p":39,"g":"b","x":-0.15,"y":0.25},
{"p":39,"g":"l","x":-0.2,"y":0.15},{"p":39,"g":"l","x":-0.1,"y":0.1},
{"p":39,"g":"s","x":-0.1,"y":0.09},{"p":39,"g":"r","x":0,"y":0},
{"p":40,"g":"b","x":-1.25,"y":1.4},{"p":40,"g":"b","x":-1.35,"y":1.1},{"p":40,"g":"b","x":-1.2,"y":1.15},{"p":40,"g":"b","x":-1.1,"y":1.25},{"p":40,"g":"b","x":-1.05,"y":1.05},{"p":40,"g":"b","x":-0.95,"y":1.15},{"p":40,"g":"b","x":-0.9,"y":0.95},{"p":40,"g":"b","x":-0.85,"y":1.1},{"p":40,"g":"b","x":-0.8,"y":0.85},{"p":40,"g":"b","x":-0.75,"y":1.0},{"p":40,"g":"b","x":-0.7,"y":0.75},{"p":40,"g":"b","x":-0.65,"y":0.7},{"p":40,"g":"b","x":-1.0,"y":0.9},{"p":40,"g":"b","x":-1.15,"y":1.0},{"p":40,"g":"b","x":-0.9,"y":0.8},
{"p":40,"g":"l","x":-2.2,"y":2.45},{"p":40,"g":"l","x":-2.2,"y":2.2},{"p":40,"g":"l","x":-2.1,"y":2.5},{"p":40,"g":"l","x":-2.05,"y":2.3},{"p":40,"g":"l","x":-2.0,"y":2.1},{"p":40,"g":"l","x":-1.95,"y":2.45},{"p":40,"g":"l","x":-1.9,"y":2.25},{"p":40,"g":"l","x":-1.85,"y":2.05},{"p":40,"g":"l","x":-1.8,"y":2.35},{"p":40,"g":"l","x":-1.75,"y":2.15},{"p":40,"g":"l","x":-1.7,"y":1.9},{"p":40,"g":"l","x":-1.65,"y":2.1},{"p":40,"g":"l","x":-1.6,"y":1.85},{"p":40,"g":"l","x":-1.55,"y":1.7},{"p":40,"g":"l","x":-1.52,"y":1.95},{"p":40,"g":"l","x":-1.8,"y":1.85},{"p":40,"g":"l","x":-2.1,"y":2.05},{"p":40,"g":"l","x":-1.7,"y":2.3},
{"p":40,"g":"s","x":-0.9,"y":1.0},{"p":40,"g":"r","x":0,"y":0},
{"p":41,"g":"b","x":-0.55,"y":0.45},{"p":41,"g":"b","x":-0.45,"y":0.6},{"p":41,"g":"b","x":-0.35,"y":0.45},{"p":41,"g":"b","x":-0.3,"y":0.3},{"p":41,"g":"b","x":-0.45,"y":0.3},{"p":41,"g":"b","x":-0.6,"y":0.55},
{"p":41,"g":"l","x":-0.8,"y":0.8},{"p":41,"g":"l","x":-0.7,"y":0.9},{"p":41,"g":"l","x":-0.6,"y":0.8},{"p":41,"g":"l","x":-0.75,"y":0.65},{"p":41,"g":"l","x":-0.6,"y":0.6},
{"p":41,"g":"s","x":-0.42,"y":0.5},{"p":41,"g":"r","x":0,"y":0},
{"p":42,"g":"b","x":-0.55,"y":0.4},{"p":42,"g":"b","x":-0.3,"y":0.2},{"p":42,"g":"b","x":-0.2,"y":0.35},{"p":42,"g":"b","x":-0.45,"y":0.2},
{"p":42,"g":"l","x":-0.5,"y":0.5},{"p":42,"g":"l","x":-0.4,"y":0.55},{"p":42,"g":"l","x":-0.35,"y":0.35},{"p":42,"g":"l","x":-0.45,"y":0.35},
{"p":42,"g":"s","x":-0.31,"y":0.29},{"p":42,"g":"r","x":0,"y":0},
{"p":43,"g":"b","x":-0.35,"y":0.35},{"p":43,"g":"b","x":-0.1,"y":0.2},{"p":43,"g":"b","x":-0.15,"y":0.35},
{"p":43,"g":"l","x":-0.3,"y":0.3},{"p":43,"g":"l","x":-0.25,"y":0.2},
{"p":43,"g":"s","x":-0.19,"y":0.23},{"p":43,"g":"r","x":0,"y":0},
{"p":44,"g":"b","x":-0.35,"y":0.3},{"p":44,"g":"b","x":-0.3,"y":0.15},
{"p":44,"g":"l","x":-0.25,"y":0.3},{"p":44,"g":"l","x":-0.15,"y":0.2},{"p":44,"g":"l","x":-0.1,"y":0.1},
{"p":44,"g":"s","x":-0.17,"y":0.17},{"p":44,"g":"r","x":0,"y":0},
{"p":45,"g":"b","x":-0.25,"y":0.2},{"p":45,"g":"b","x":-0.1,"y":0.15},
{"p":45,"g":"l","x":-0.2,"y":0.25},{"p":45,"g":"l","x":-0.15,"y":0.25},{"p":45,"g":"l","x":-0.1,"y":0.3},
{"p":45,"g":"s","x":-0.15,"y":0.2},{"p":45,"g":"r","x":0,"y":0},
{"p":46,"g":"b","x":-0.25,"y":0.2},{"p":46,"g":"b","x":-0.05,"y":0.05},
{"p":46,"g":"l","x":-0.2,"y":0.15},{"p":46,"g":"l","x":-0.15,"y":0.2},
{"p":46,"g":"s","x":-0.15,"y":0.12},{"p":46,"g":"r","x":0,"y":0},
{"p":47,"g":"b","x":-0.25,"y":0.15},{"p":47,"g":"b","x":-0.05,"y":0.1},
{"p":47,"g":"l","x":-0.2,"y":0.15},
{"p":47,"g":"s","x":-0.12,"y":0.11},{"p":47,"g":"r","x":0,"y":0},
{"p":48,"g":"b","x":-1.38,"y":1.5},{"p":48,"g":"b","x":-1.45,"y":1.3},{"p":48,"g":"b","x":-1.35,"y":1.2},{"p":48,"g":"b","x":-1.25,"y":1.25},{"p":48,"g":"b","x":-1.2,"y":1.05},{"p":48,"g":"b","x":-1.1,"y":1.15},{"p":48,"g":"b","x":-1.05,"y":0.95},{"p":48,"g":"b","x":-0.95,"y":1.05},{"p":48,"g":"b","x":-0.9,"y":0.85},{"p":48,"g":"b","x":-0.85,"y":1.0},{"p":48,"g":"b","x":-0.8,"y":0.8},{"p":48,"g":"b","x":-0.75,"y":0.95},{"p":48,"g":"b","x":-0.78,"y":0.65},{"p":48,"g":"b","x":-1.15,"y":1.25},{"p":48,"g":"b","x":-1.0,"y":0.9},{"p":48,"g":"b","x":-1.3,"y":1.1},
{"p":48,"g":"l","x":-2.8,"y":2.7},{"p":48,"g":"l","x":-2.7,"y":2.75},{"p":48,"g":"l","x":-2.65,"y":2.6},{"p":48,"g":"l","x":-2.55,"y":2.75},{"p":48,"g":"l","x":-2.5,"y":2.55},{"p":48,"g":"l","x":-2.45,"y":2.4},{"p":48,"g":"l","x":-2.4,"y":2.6},{"p":48,"g":"l","x":-2.35,"y":2.45},{"p":48,"g":"l","x":-2.3,"y":2.3},{"p":48,"g":"l","x":-2.25,"y":2.5},{"p":48,"g":"l","x":-2.2,"y":2.35},{"p":48,"g":"l","x":-2.15,"y":2.2},{"p":48,"g":"l","x":-2.1,"y":2.4},{"p":48,"g":"l","x":-2.05,"y":2.25},{"p":48,"g":"l","x":-2.0,"y":2.1},{"p":48,"g":"l","x":-1.95,"y":2.2},{"p":48,"g":"l","x":-1.94,"y":1.88},{"p":48,"g":"l","x":-2.6,"y":2.45},{"p":48,"g":"l","x":-2.25,"y":2.15},{"p":48,"g":"l","x":-2.7,"y":2.65},
{"p":48,"g":"s","x":-1.1,"y":1.14},{"p":48,"g":"r","x":0,"y":0},
{"p":49,"g":"b","x":-0.6,"y":0.6},{"p":49,"g":"b","x":-0.45,"y":0.55},{"p":49,"g":"b","x":-0.35,"y":0.45},{"p":49,"g":"b","x":-0.3,"y":0.35},{"p":49,"g":"b","x":-0.45,"y":0.35},{"p":49,"g":"b","x":-0.55,"y":0.45},
{"p":49,"g":"l","x":-0.95,"y":0.85},{"p":49,"g":"l","x":-0.85,"y":1.0},{"p":49,"g":"l","x":-0.75,"y":0.95},{"p":49,"g":"l","x":-0.85,"y":0.8},{"p":49,"g":"l","x":-0.7,"y":0.8},{"p":49,"g":"l","x":-0.8,"y":0.7},
{"p":49,"g":"s","x":-0.54,"y":0.55},{"p":49,"g":"r","x":0,"y":0},
{"p":50,"g":"b","x":-0.3,"y":0.35},{"p":50,"g":"b","x":-0.25,"y":0.2},{"p":50,"g":"b","x":-0.35,"y":0.2},
{"p":50,"g":"l","x":-0.5,"y":0.45},{"p":50,"g":"l","x":-0.4,"y":0.5},{"p":50,"g":"l","x":-0.45,"y":0.35},{"p":50,"g":"l","x":-0.35,"y":0.35},
{"p":50,"g":"s","x":-0.29,"y":0.27},{"p":50,"g":"r","x":0,"y":0},
{"p":51,"g":"b","x":-0.2,"y":0.3},{"p":51,"g":"b","x":-0.15,"y":0.2},{"p":51,"g":"b","x":-0.25,"y":0.2},
{"p":51,"g":"l","x":-0.42,"y":0.3},{"p":51,"g":"l","x":-0.35,"y":0.35},{"p":51,"g":"l","x":-0.35,"y":0.25},
{"p":51,"g":"s","x":-0.27,"y":0.24},{"p":51,"g":"r","x":0,"y":0},
{"p":52,"g":"b","x":-0.15,"y":0.2},{"p":52,"g":"b","x":-0.2,"y":0.12},
{"p":52,"g":"l","x":-0.33,"y":0.3},{"p":52,"g":"l","x":-0.25,"y":0.35},{"p":52,"g":"l","x":-0.3,"y":0.2},
{"p":52,"g":"s","x":-0.21,"y":0.18},{"p":52,"g":"r","x":0,"y":0},
{"p":53,"g":"b","x":-0.12,"y":0.15},{"p":53,"g":"b","x":-0.25,"y":0.15},
{"p":53,"g":"l","x":-0.28,"y":0.25},{"p":53,"g":"l","x":-0.2,"y":0.28},
{"p":53,"g":"s","x":-0.17,"y":0.14},{"p":53,"g":"r","x":0,"y":0},
{"p":54,"g":"b","x":-0.22,"y":0.2},{"p":54,"g":"b","x":-0.05,"y":0.05},
{"p":54,"g":"l","x":-0.15,"y":0.15},{"p":54,"g":"l","x":-0.2,"y":0.22},
{"p":54,"g":"s","x":-0.12,"y":0.09},{"p":54,"g":"r","x":0,"y":0},
{"p":55,"g":"b","x":-0.1,"y":0.1},{"p":55,"g":"b","x":-0.05,"y":0.05},
{"p":55,"g":"l","x":-0.27,"y":0.2},{"p":55,"g":"l","x":-0.2,"y":0.25},
{"p":55,"g":"s","x":-0.17,"y":0.18},{"p":55,"g":"r","x":0,"y":0},
{"p":56,"g":"b","x":-1.3,"y":1.2},{"p":56,"g":"b","x":-1.25,"y":1.05},{"p":56,"g":"b","x":-1.15,"y":1.25},{"p":56,"g":"b","x":-1.1,"y":1.05},{"p":56,"g":"b","x":-1.0,"y":1.2},{"p":56,"g":"b","x":-0.95,"y":1.0},{"p":56,"g":"b","x":-0.85,"y":1.1},{"p":56,"g":"b","x":-0.8,"y":0.9},{"p":56,"g":"b","x":-0.75,"y":1.0},{"p":56,"g":"b","x":-0.7,"y":0.85},{"p":56,"g":"b","x":-0.9,"y":0.85},{"p":56,"g":"b","x":-1.05,"y":0.95},{"p":56,"g":"b","x":-1.2,"y":1.15},
{"p":56,"g":"l","x":-2.94,"y":3.14},{"p":56,"g":"l","x":-3.05,"y":2.9},{"p":56,"g":"l","x":-3.0,"y":2.75},{"p":56,"g":"l","x":-2.9,"y":2.85},{"p":56,"g":"l","x":-2.85,"y":2.65},{"p":56,"g":"l","x":-2.8,"y":2.9},{"p":56,"g":"l","x":-2.75,"y":2.7},{"p":56,"g":"l","x":-2.7,"y":2.55},{"p":56,"g":"l","x":-2.65,"y":2.8},{"p":56,"g":"l","x":-2.6,"y":2.65},{"p":56,"g":"l","x":-2.55,"y":2.5},{"p":56,"g":"l","x":-2.5,"y":2.65},{"p":56,"g":"l","x":-2.45,"y":2.45},{"p":56,"g":"l","x":-2.4,"y":2.3},{"p":56,"g":"l","x":-2.35,"y":2.45},{"p":56,"g":"l","x":-2.3,"y":2.3},{"p":56,"g":"l","x":-2.95,"y":2.65},{"p":56,"g":"l","x":-2.6,"y":2.4},{"p":56,"g":"l","x":-2.75,"y":2.85},
{"p":56,"g":"s","x":-1.24,"y":1.2},{"p":56,"g":"r","x":0,"y":0},
{"p":57,"g":"b","x":-0.6,"y":0.55},{"p":57,"g":"b","x":-0.45,"y":0.6},{"p":57,"g":"b","x":-0.35,"y":0.45},{"p":57,"g":"b","x":-0.3,"y":0.35},{"p":57,"g":"b","x":-0.45,"y":0.35},{"p":57,"g":"b","x":-0.55,"y":0.45},
{"p":57,"g":"l","x":-0.9,"y":0.8},{"p":57,"g":"l","x":-0.8,"y":0.95},{"p":57,"g":"l","x":-0.7,"y":0.85},{"p":57,"g":"l","x":-0.8,"y":0.7},{"p":57,"g":"l","x":-0.65,"y":0.7},
{"p":57,"g":"s","x":-0.53,"y":0.48},{"p":57,"g":"r","x":0,"y":0},
{"p":58,"g":"b","x":-0.3,"y":0.35},{"p":58,"g":"b","x":-0.25,"y":0.25},{"p":58,"g":"b","x":-0.4,"y":0.3},
{"p":58,"g":"l","x":-0.45,"y":0.5},{"p":58,"g":"l","x":-0.35,"y":0.55},{"p":58,"g":"l","x":-0.4,"y":0.4},
{"p":58,"g":"s","x":-0.29,"y":0.38},{"p":58,"g":"r","x":0,"y":0},
{"p":59,"g":"b","x":-0.2,"y":0.25},{"p":59,"g":"b","x":-0.15,"y":0.15},{"p":59,"g":"b","x":-0.3,"y":0.15},
{"p":59,"g":"l","x":-0.4,"y":0.3},{"p":59,"g":"l","x":-0.3,"y":0.32},
{"p":59,"g":"s","x":-0.26,"y":0.23},{"p":59,"g":"r","x":0,"y":0},
{"p":60,"g":"b","x":-0.2,"y":0.2},{"p":60,"g":"b","x":-0.15,"y":0.15},
{"p":60,"g":"l","x":-0.37,"y":0.3},{"p":60,"g":"l","x":-0.28,"y":0.35},{"p":60,"g":"l","x":-0.3,"y":0.2},
{"p":60,"g":"s","x":-0.23,"y":0.24},{"p":60,"g":"r","x":0,"y":0},
{"p":61,"g":"b","x":-0.15,"y":0.15},{"p":61,"g":"b","x":-0.25,"y":0.15},
{"p":61,"g":"l","x":-0.25,"y":0.25},{"p":61,"g":"l","x":-0.2,"y":0.3},
{"p":61,"g":"s","x":-0.18,"y":0.2},{"p":61,"g":"r","x":0,"y":0},
{"p":62,"g":"b","x":-0.22,"y":0.2},{"p":62,"g":"b","x":-0.08,"y":0.08},
{"p":62,"g":"l","x":-0.18,"y":0.2},
{"p":62,"g":"s","x":-0.12,"y":0.15},{"p":62,"g":"r","x":0,"y":0},
{"p":63,"g":"b","x":-0.1,"y":0.1},
{"p":63,"g":"l","x":-0.22,"y":0.18},{"p":63,"g":"l","x":-0.15,"y":0.2},
{"p":63,"g":"s","x":-0.12,"y":0.18},{"p":63,"g":"r","x":0,"y":0}
]},
"columns":8,
"spacing":{"row":19.7,"column":19.5},
"bounds":"flush",
"concat":[
{"transform":[{"filter":"datum.p==0"}],"mark":"circle","encoding":{"x":{"field":"x","type":"quantitative","scale":{"domain":[-3.225,0.373]},"axis":{"title":null,"values":[-2,0],"labels":false}},"y":{"field":"y","type":"quantitative","scale":{"domain":[-0.409,5.318]},"axis":{"title":null,"values":[0,2,4],"labels":true}},"color":{"field":"g","type":"nominal","legend":null},"size":{"condition":{"test":"datum.g=='r'","value":52},"value":46}}},
{"transform":[{"filter":"datum.p==1"}],"mark":"circle","encoding":{"x":{"field":"x","type":"quantitative","scale":{"domain":[-3.225,0.373]},"axis":{"title":null,"values":[-2,0],"labels":false}},"y":{"field":"y","type":"quantitative","scale":{"domain":[-0.409,5.318]},"axis":{"title":null,"values":[0,2,4],"labels":false}},"color":{"field":"g","type":"nominal","legend":null},"size":{"condition":{"test":"datum.g=='r'","value":52},"value":46}}},
{"transform":[{"filter":"datum.p==2"}],"mark":"circle","encoding":{"x":{"field":"x","type":"quantitative","scale":{"domain":[-3.225,0.373]},"axis":{"title":null,"values":[-2,0],"labels":false}},"y":{"field":"y","type":"quantitative","scale":{"domain":[-0.409,5.318]},"axis":{"title":null,"values":[0,2,4],"labels":false}},"color":{"field":"g","type":"nominal","legend":null},"size":{"condition":{"test":"datum.g=='r'","value":52},"value":46}}},
{"transform":[{"filter":"datum.p==3"}],"mark":"circle","encoding":{"x":{"field":"x","type":"quantitative","scale":{"domain":[-3.225,0.373]},"axis":{"title":null,"values":[-2,0],"labels":false}},"y":{"field":"y","type":"quantitative","scale":{"domain":[-0.409,5.318]},"axis":{"title":null,"values":[0,2,4],"labels":false}},"color":{"field":"g","type":"nominal","legend":null},"size":{"condition":{"test":"datum.g=='r'","value":52},"value":46}}},
{"transform":[{"filter":"datum.p==4"}],"mark":"circle","encoding":{"x":{"field":"x","type":"quantitative","scale":{"domain":[-3.225,0.373]},"axis":{"title":null,"values":[-2,0],"labels":false}},"y":{"field":"y","type":"quantitative","scale":{"domain":[-0.409,5.318]},"axis":{"title":null,"values":[0,2,4],"labels":false}},"color":{"field":"g","type":"nominal","legend":null},"size":{"condition":{"test":"datum.g=='r'","value":52},"value":46}}},
{"transform":[{"filter":"datum.p==5"}],"mark":"circle","encoding":{"x":{"field":"x","type":"quantitative","scale":{"domain":[-3.225,0.373]},"axis":{"title":null,"values":[-2,0],"labels":false}},"y":{"field":"y","type":"quantitative","scale":{"domain":[-0.409,5.318]},"axis":{"title":null,"values":[0,2,4],"labels":false}},"color":{"field":"g","type":"nominal","legend":null},"size":{"condition":{"test":"datum.g=='r'","value":52},"value":46}}},
{"transform":[{"filter":"datum.p==6"}],"mark":"circle","encoding":{"x":{"field":"x","type":"quantitative","scale":{"domain":[-3.225,0.373]},"axis":{"title":null,"values":[-2,0],"labels":false}},"y":{"field":"y","type":"quantitative","scale":{"domain":[-0.409,5.318]},"axis":{"title":null,"values":[0,2,4],"labels":false}},"color":{"field":"g","type":"nominal","legend":null},"size":{"condition":{"test":"datum.g=='r'","value":52},"value":46}}},
{"transform":[{"filter":"datum.p==7"}],"mark":"circle","encoding":{"x":{"field":"x","type":"quantitative","scale":{"domain":[-3.225,0.373]},"axis":{"title":null,"values":[-2,0],"labels":false}},"y":{"field":"y","type":"quantitative","scale":{"domain":[-0.409,5.318]},"axis":{"title":null,"values":[0,2,4],"labels":false}},"color":{"field":"g","type":"nominal","legend":null},"size":{"condition":{"test":"datum.g=='r'","value":52},"value":46}}},
{"transform":[{"filter":"datum.p==8"}],"mark":"circle","encoding":{"x":{"field":"x","type":"quantitative","scale":{"domain":[-3.225,0.373]},"axis":{"title":null,"values":[-2,0],"labels":false}},"y":{"field":"y","type":"quantitative","scale":{"domain":[-0.409,5.318]},"axis":{"title":null,"values":[0,2,4],"labels":true}},"color":{"field":"g","type":"nominal","legend":null},"size":{"condition":{"test":"datum.g=='r'","value":52},"value":46}}},
{"transform":[{"filter":"datum.p==9"}],"mark":"circle","encoding":{"x":{"field":"x","type":"quantitative","scale":{"domain":[-3.225,0.373]},"axis":{"title":null,"values":[-2,0],"labels":false}},"y":{"field":"y","type":"quantitative","scale":{"domain":[-0.409,5.318]},"axis":{"title":null,"values":[0,2,4],"labels":false}},"color":{"field":"g","type":"nominal","legend":null},"size":{"condition":{"test":"datum.g=='r'","value":52},"value":46}}},
{"transform":[{"filter":"datum.p==10"}],"mark":"circle","encoding":{"x":{"field":"x","type":"quantitative","scale":{"domain":[-3.225,0.373]},"axis":{"title":null,"values":[-2,0],"labels":false}},"y":{"field":"y","type":"quantitative","scale":{"domain":[-0.409,5.318]},"axis":{"title":null,"values":[0,2,4],"labels":false}},"color":{"field":"g","type":"nominal","legend":null},"size":{"condition":{"test":"datum.g=='r'","value":52},"value":46}}},
{"transform":[{"filter":"datum.p==11"}],"mark":"circle","encoding":{"x":{"field":"x","type":"quantitative","scale":{"domain":[-3.225,0.373]},"axis":{"title":null,"values":[-2,0],"labels":false}},"y":{"field":"y","type":"quantitative","scale":{"domain":[-0.409,5.318]},"axis":{"title":null,"values":[0,2,4],"labels":false}},"color":{"field":"g","type":"nominal","legend":null},"size":{"condition":{"test":"datum.g=='r'","value":52},"value":46}}},
{"transform":[{"filter":"datum.p==12"}],"mark":"circle","encoding":{"x":{"field":"x","type":"quantitative","scale":{"domain":[-3.225,0.373]},"axis":{"title":null,"values":[-2,0],"labels":false}},"y":{"field":"y","type":"quantitative","scale":{"domain":[-0.409,5.318]},"axis":{"title":null,"values":[0,2,4],"labels":false}},"color":{"field":"g","type":"nominal","legend":null},"size":{"condition":{"test":"datum.g=='r'","value":52},"value":46}}},
{"transform":[{"filter":"datum.p==13"}],"mark":"circle","encoding":{"x":{"field":"x","type":"quantitative","scale":{"domain":[-3.225,0.373]},"axis":{"title":null,"values":[-2,0],"labels":false}},"y":{"field":"y","type":"quantitative","scale":{"domain":[-0.409,5.318]},"axis":{"title":null,"values":[0,2,4],"labels":false}},"color":{"field":"g","type":"nominal","legend":null},"size":{"condition":{"test":"datum.g=='r'","value":52},"value":46}}},
{"transform":[{"filter":"datum.p==14"}],"mark":"circle","encoding":{"x":{"field":"x","type":"quantitative","scale":{"domain":[-3.225,0.373]},"axis":{"title":null,"values":[-2,0],"labels":false}},"y":{"field":"y","type":"quantitative","scale":{"domain":[-0.409,5.318]},"axis":{"title":null,"values":[0,2,4],"labels":false}},"color":{"field":"g","type":"nominal","legend":null},"size":{"condition":{"test":"datum.g=='r'","value":52},"value":46}}},
{"transform":[{"filter":"datum.p==15"}],"mark":"circle","encoding":{"x":{"field":"x","type":"quantitative","scale":{"domain":[-3.225,0.373]},"axis":{"title":null,"values":[-2,0],"labels":false}},"y":{"field":"y","type":"quantitative","scale":{"domain":[-0.409,5.318]},"axis":{"title":null,"values":[0,2,4],"labels":false}},"color":{"field":"g","type":"nominal","legend":null},"size":{"condition":{"test":"datum.g=='r'","value":52},"value":46}}},
{"transform":[{"filter":"datum.p==16"}],"mark":"circle","encoding":{"x":{"field":"x","type":"quantitative","scale":{"domain":[-3.225,0.373]},"axis":{"title":null,"values":[-2,0],"labels":false}},"y":{"field":"y","type":"quantitative","scale":{"domain":[-0.409,5.318]},"axis":{"title":null,"values":[0,2,4],"labels":true}},"color":{"field":"g","type":"nominal","legend":null},"size":{"condition":{"test":"datum.g=='r'","value":52},"value":46}}},
{"transform":[{"filter":"datum.p==17"}],"mark":"circle","encoding":{"x":{"field":"x","type":"quantitative","scale":{"domain":[-3.225,0.373]},"axis":{"title":null,"values":[-2,0],"labels":false}},"y":{"field":"y","type":"quantitative","scale":{"domain":[-0.409,5.318]},"axis":{"title":null,"values":[0,2,4],"labels":false}},"color":{"field":"g","type":"nominal","legend":null},"size":{"condition":{"test":"datum.g=='r'","value":52},"value":46}}},
{"transform":[{"filter":"datum.p==18"}],"mark":"circle","encoding":{"x":{"field":"x","type":"quantitative","scale":{"domain":[-3.225,0.373]},"axis":{"title":null,"values":[-2,0],"labels":false}},"y":{"field":"y","type":"quantitative","scale":{"domain":[-0.409,5.318]},"axis":{"title":null,"values":[0,2,4],"labels":false}},"color":{"field":"g","type":"nominal","legend":null},"size":{"condition":{"test":"datum.g=='r'","value":52},"value":46}}},
{"transform":[{"filter":"datum.p==19"}],"mark":"circle","encoding":{"x":{"field":"x","type":"quantitative","scale":{"domain":[-3.225,0.373]},"axis":{"title":null,"values":[-2,0],"labels":false}},"y":{"field":"y","type":"quantitative","scale":{"domain":[-0.409,5.318]},"axis":{"title":null,"values":[0,2,4],"labels":false}},"color":{"field":"g","type":"nominal","legend":null},"size":{"condition":{"test":"datum.g=='r'","value":52},"value":46}}},
{"transform":[{"filter":"datum.p==20"}],"mark":"circle","encoding":{"x":{"field":"x","type":"quantitative","scale":{"domain":[-3.225,0.373]},"axis":{"title":null,"values":[-2,0],"labels":false}},"y":{"field":"y","type":"quantitative","scale":{"domain":[-0.409,5.318]},"axis":{"title":null,"values":[0,2,4],"labels":false}},"color":{"field":"g","type":"nominal","legend":null},"size":{"condition":{"test":"datum.g=='r'","value":52},"value":46}}},
{"transform":[{"filter":"datum.p==21"}],"mark":"circle","encoding":{"x":{"field":"x","type":"quantitative","scale":{"domain":[-3.225,0.373]},"axis":{"title":null,"values":[-2,0],"labels":false}},"y":{"field":"y","type":"quantitative","scale":{"domain":[-0.409,5.318]},"axis":{"title":null,"values":[0,2,4],"labels":false}},"color":{"field":"g","type":"nominal","legend":null},"size":{"condition":{"test":"datum.g=='r'","value":52},"value":46}}},
{"transform":[{"filter":"datum.p==22"}],"mark":"circle","encoding":{"x":{"field":"x","type":"quantitative","scale":{"domain":[-3.225,0.373]},"axis":{"title":null,"values":[-2,0],"labels":false}},"y":{"field":"y","type":"quantitative","scale":{"domain":[-0.409,5.318]},"axis":{"title":null,"values":[0,2,4],"labels":false}},"color":{"field":"g","type":"nominal","legend":null},"size":{"condition":{"test":"datum.g=='r'","value":52},"value":46}}},
{"transform":[{"filter":"datum.p==23"}],"mark":"circle","encoding":{"x":{"field":"x","type":"quantitative","scale":{"domain":[-3.225,0.373]},"axis":{"title":null,"values":[-2,0],"labels":false}},"y":{"field":"y","type":"quantitative","scale":{"domain":[-0.409,5.318]},"axis":{"title":null,"values":[0,2,4],"labels":false}},"color":{"field":"g","type":"nominal","legend":null},"size":{"condition":{"test":"datum.g=='r'","value":52},"value":46}}},
{"transform":[{"filter":"datum.p==24"}],"mark":"circle","encoding":{"x":{"field":"x","type":"quantitative","scale":{"domain":[-3.225,0.373]},"axis":{"title":null,"values":[-2,0],"labels":false}},"y":{"field":"y","type":"quantitative","scale":{"domain":[-0.409,5.318]},"axis":{"title":null,"values":[0,2,4],"labels":true}},"color":{"field":"g","type":"nominal","legend":null},"size":{"condition":{"test":"datum.g=='r'","value":52},"value":46}}},
{"transform":[{"filter":"datum.p==25"}],"mark":"circle","encoding":{"x":{"field":"x","type":"quantitative","scale":{"domain":[-3.225,0.373]},"axis":{"title":null,"values":[-2,0],"labels":false}},"y":{"field":"y","type":"quantitative","scale":{"domain":[-0.409,5.318]},"axis":{"title":null,"values":[0,2,4],"labels":false}},"color":{"field":"g","type":"nominal","legend":null},"size":{"condition":{"test":"datum.g=='r'","value":52},"value":46}}},
{"transform":[{"filter":"datum.p==26"}],"mark":"circle","encoding":{"x":{"field":"x","type":"quantitative","scale":{"domain":[-3.225,0.373]},"axis":{"title":null,"values":[-2,0],"labels":false}},"y":{"field":"y","type":"quantitative","scale":{"domain":[-0.409,5.318]},"axis":{"title":null,"values":[0,2,4],"labels":false}},"color":{"field":"g","type":"nominal","legend":null},"size":{"condition":{"test":"datum.g=='r'","value":52},"value":46}}},
{"transform":[{"filter":"datum.p==27"}],"mark":"circle","encoding":{"x":{"field":"x","type":"quantitative","scale":{"domain":[-3.225,0.373]},"axis":{"title":null,"values":[-2,0],"labels":false}},"y":{"field":"y","type":"quantitative","scale":{"domain":[-0.409,5.318]},"axis":{"title":null,"values":[0,2,4],"labels":false}},"color":{"field":"g","type":"nominal","legend":null},"size":{"condition":{"test":"datum.g=='r'","value":52},"value":46}}},
{"transform":[{"filter":"datum.p==28"}],"mark":"circle","encoding":{"x":{"field":"x","type":"quantitative","scale":{"domain":[-3.225,0.373]},"axis":{"title":null,"values":[-2,0],"labels":false}},"y":{"field":"y","type":"quantitative","scale":{"domain":[-0.409,5.318]},"axis":{"title":null,"values":[0,2,4],"labels":false}},"color":{"field":"g","type":"nominal","legend":null},"size":{"condition":{"test":"datum.g=='r'","value":52},"value":46}}},
{"transform":[{"filter":"datum.p==29"}],"mark":"circle","encoding":{"x":{"field":"x","type":"quantitative","scale":{"domain":[-3.225,0.373]},"axis":{"title":null,"values":[-2,0],"labels":false}},"y":{"field":"y","type":"quantitative","scale":{"domain":[-0.409,5.318]},"axis":{"title":null,"values":[0,2,4],"labels":false}},"color":{"field":"g","type":"nominal","legend":null},"size":{"condition":{"test":"datum.g=='r'","value":52},"value":46}}},
{"transform":[{"filter":"datum.p==30"}],"mark":"circle","encoding":{"x":{"field":"x","type":"quantitative","scale":{"domain":[-3.225,0.373]},"axis":{"title":null,"values":[-2,0],"labels":false}},"y":{"field":"y","type":"quantitative","scale":{"domain":[-0.409,5.318]},"axis":{"title":null,"values":[0,2,4],"labels":false}},"color":{"field":"g","type":"nominal","legend":null},"size":{"condition":{"test":"datum.g=='r'","value":52},"value":46}}},
{"transform":[{"filter":"datum.p==31"}],"mark":"circle","encoding":{"x":{"field":"x","type":"quantitative","scale":{"domain":[-3.225,0.373]},"axis":{"title":null,"values":[-2,0],"labels":false}},"y":{"field":"y","type":"quantitative","scale":{"domain":[-0.409,5.318]},"axis":{"title":null,"values":[0,2,4],"labels":false}},"color":{"field":"g","type":"nominal","legend":null},"size":{"condition":{"test":"datum.g=='r'","value":52},"value":46}}},
{"transform":[{"filter":"datum.p==32"}],"mark":"circle","encoding":{"x":{"field":"x","type":"quantitative","scale":{"domain":[-3.225,0.373]},"axis":{"title":null,"values":[-2,0],"labels":false}},"y":{"field":"y","type":"quantitative","scale":{"domain":[-0.409,5.318]},"axis":{"title":null,"values":[0,2,4],"labels":true}},"color":{"field":"g","type":"nominal","legend":null},"size":{"condition":{"test":"datum.g=='r'","value":52},"value":46}}},
{"transform":[{"filter":"datum.p==33"}],"mark":"circle","encoding":{"x":{"field":"x","type":"quantitative","scale":{"domain":[-3.225,0.373]},"axis":{"title":null,"values":[-2,0],"labels":false}},"y":{"field":"y","type":"quantitative","scale":{"domain":[-0.409,5.318]},"axis":{"title":null,"values":[0,2,4],"labels":false}},"color":{"field":"g","type":"nominal","legend":null},"size":{"condition":{"test":"datum.g=='r'","value":52},"value":46}}},
{"transform":[{"filter":"datum.p==34"}],"mark":"circle","encoding":{"x":{"field":"x","type":"quantitative","scale":{"domain":[-3.225,0.373]},"axis":{"title":null,"values":[-2,0],"labels":false}},"y":{"field":"y","type":"quantitative","scale":{"domain":[-0.409,5.318]},"axis":{"title":null,"values":[0,2,4],"labels":false}},"color":{"field":"g","type":"nominal","legend":null},"size":{"condition":{"test":"datum.g=='r'","value":52},"value":46}}},
{"transform":[{"filter":"datum.p==35"}],"mark":"circle","encoding":{"x":{"field":"x","type":"quantitative","scale":{"domain":[-3.225,0.373]},"axis":{"title":null,"values":[-2,0],"labels":false}},"y":{"field":"y","type":"quantitative","scale":{"domain":[-0.409,5.318]},"axis":{"title":null,"values":[0,2,4],"labels":false}},"color":{"field":"g","type":"nominal","legend":null},"size":{"condition":{"test":"datum.g=='r'","value":52},"value":46}}},
{"transform":[{"filter":"datum.p==36"}],"mark":"circle","encoding":{"x":{"field":"x","type":"quantitative","scale":{"domain":[-3.225,0.373]},"axis":{"title":null,"values":[-2,0],"labels":false}},"y":{"field":"y","type":"quantitative","scale":{"domain":[-0.409,5.318]},"axis":{"title":null,"values":[0,2,4],"labels":false}},"color":{"field":"g","type":"nominal","legend":null},"size":{"condition":{"test":"datum.g=='r'","value":52},"value":46}}},
{"transform":[{"filter":"datum.p==37"}],"mark":"circle","encoding":{"x":{"field":"x","type":"quantitative","scale":{"domain":[-3.225,0.373]},"axis":{"title":null,"values":[-2,0],"labels":false}},"y":{"field":"y","type":"quantitative","scale":{"domain":[-0.409,5.318]},"axis":{"title":null,"values":[0,2,4],"labels":false}},"color":{"field":"g","type":"nominal","legend":null},"size":{"condition":{"test":"datum.g=='r'","value":52},"value":46}}},
{"transform":[{"filter":"datum.p==38"}],"mark":"circle","encoding":{"x":{"field":"x","type":"quantitative","scale":{"domain":[-3.225,0.373]},"axis":{"title":null,"values":[-2,0],"labels":false}},"y":{"field":"y","type":"quantitative","scale":{"domain":[-0.409,5.318]},"axis":{"title":null,"values":[0,2,4],"labels":false}},"color":{"field":"g","type":"nominal","legend":null},"size":{"condition":{"test":"datum.g=='r'","value":52},"value":46}}},
{"transform":[{"filter":"datum.p==39"}],"mark":"circle","encoding":{"x":{"field":"x","type":"quantitative","scale":{"domain":[-3.225,0.373]},"axis":{"title":null,"values":[-2,0],"labels":false}},"y":{"field":"y","type":"quantitative","scale":{"domain":[-0.409,5.318]},"axis":{"title":null,"values":[0,2,4],"labels":false}},"color":{"field":"g","type":"nominal","legend":null},"size":{"condition":{"test":"datum.g=='r'","value":52},"value":46}}},
{"transform":[{"filter":"datum.p==40"}],"mark":"circle","encoding":{"x":{"field":"x","type":"quantitative","scale":{"domain":[-3.225,0.373]},"axis":{"title":null,"values":[-2,0],"labels":false}},"y":{"field":"y","type":"quantitative","scale":{"domain":[-0.409,5.318]},"axis":{"title":null,"values":[0,2,4],"labels":true}},"color":{"field":"g","type":"nominal","legend":null},"size":{"condition":{"test":"datum.g=='r'","value":52},"value":46}}},
{"transform":[{"filter":"datum.p==41"}],"mark":"circle","encoding":{"x":{"field":"x","type":"quantitative","scale":{"domain":[-3.225,0.373]},"axis":{"title":null,"values":[-2,0],"labels":false}},"y":{"field":"y","type":"quantitative","scale":{"domain":[-0.409,5.318]},"axis":{"title":null,"values":[0,2,4],"labels":false}},"color":{"field":"g","type":"nominal","legend":null},"size":{"condition":{"test":"datum.g=='r'","value":52},"value":46}}},
{"transform":[{"filter":"datum.p==42"}],"mark":"circle","encoding":{"x":{"field":"x","type":"quantitative","scale":{"domain":[-3.225,0.373]},"axis":{"title":null,"values":[-2,0],"labels":false}},"y":{"field":"y","type":"quantitative","scale":{"domain":[-0.409,5.318]},"axis":{"title":null,"values":[0,2,4],"labels":false}},"color":{"field":"g","type":"nominal","legend":null},"size":{"condition":{"test":"datum.g=='r'","value":52},"value":46}}},
{"transform":[{"filter":"datum.p==43"}],"mark":"circle","encoding":{"x":{"field":"x","type":"quantitative","scale":{"domain":[-3.225,0.373]},"axis":{"title":null,"values":[-2,0],"labels":false}},"y":{"field":"y","type":"quantitative","scale":{"domain":[-0.409,5.318]},"axis":{"title":null,"values":[0,2,4],"labels":false}},"color":{"field":"g","type":"nominal","legend":null},"size":{"condition":{"test":"datum.g=='r'","value":52},"value":46}}},
{"transform":[{"filter":"datum.p==44"}],"mark":"circle","encoding":{"x":{"field":"x","type":"quantitative","scale":{"domain":[-3.225,0.373]},"axis":{"title":null,"values":[-2,0],"labels":false}},"y":{"field":"y","type":"quantitative","scale":{"domain":[-0.409,5.318]},"axis":{"title":null,"values":[0,2,4],"labels":false}},"color":{"field":"g","type":"nominal","legend":null},"size":{"condition":{"test":"datum.g=='r'","value":52},"value":46}}},
{"transform":[{"filter":"datum.p==45"}],"mark":"circle","encoding":{"x":{"field":"x","type":"quantitative","scale":{"domain":[-3.225,0.373]},"axis":{"title":null,"values":[-2,0],"labels":false}},"y":{"field":"y","type":"quantitative","scale":{"domain":[-0.409,5.318]},"axis":{"title":null,"values":[0,2,4],"labels":false}},"color":{"field":"g","type":"nominal","legend":null},"size":{"condition":{"test":"datum.g=='r'","value":52},"value":46}}},
{"transform":[{"filter":"datum.p==46"}],"mark":"circle","encoding":{"x":{"field":"x","type":"quantitative","scale":{"domain":[-3.225,0.373]},"axis":{"title":null,"values":[-2,0],"labels":false}},"y":{"field":"y","type":"quantitative","scale":{"domain":[-0.409,5.318]},"axis":{"title":null,"values":[0,2,4],"labels":false}},"color":{"field":"g","type":"nominal","legend":null},"size":{"condition":{"test":"datum.g=='r'","value":52},"value":46}}},
{"transform":[{"filter":"datum.p==47"}],"mark":"circle","encoding":{"x":{"field":"x","type":"quantitative","scale":{"domain":[-3.225,0.373]},"axis":{"title":null,"values":[-2,0],"labels":false}},"y":{"field":"y","type":"quantitative","scale":{"domain":[-0.409,5.318]},"axis":{"title":null,"values":[0,2,4],"labels":false}},"color":{"field":"g","type":"nominal","legend":null},"size":{"condition":{"test":"datum.g=='r'","value":52},"value":46}}},
{"transform":[{"filter":"datum.p==48"}],"mark":"circle","encoding":{"x":{"field":"x","type":"quantitative","scale":{"domain":[-3.225,0.373]},"axis":{"title":null,"values":[-2,0],"labels":false}},"y":{"field":"y","type":"quantitative","scale":{"domain":[-0.409,5.318]},"axis":{"title":null,"values":[0,2,4],"labels":true}},"color":{"field":"g","type":"nominal","legend":null},"size":{"condition":{"test":"datum.g=='r'","value":52},"value":46}}},
{"transform":[{"filter":"datum.p==49"}],"mark":"circle","encoding":{"x":{"field":"x","type":"quantitative","scale":{"domain":[-3.225,0.373]},"axis":{"title":null,"values":[-2,0],"labels":false}},"y":{"field":"y","type":"quantitative","scale":{"domain":[-0.409,5.318]},"axis":{"title":null,"values":[0,2,4],"labels":false}},"color":{"field":"g","type":"nominal","legend":null},"size":{"condition":{"test":"datum.g=='r'","value":52},"value":46}}},
{"transform":[{"filter":"datum.p==50"}],"mark":"circle","encoding":{"x":{"field":"x","type":"quantitative","scale":{"domain":[-3.225,0.373]},"axis":{"title":null,"values":[-2,0],"labels":false}},"y":{"field":"y","type":"quantitative","scale":{"domain":[-0.409,5.318]},"axis":{"title":null,"values":[0,2,4],"labels":false}},"color":{"field":"g","type":"nominal","legend":null},"size":{"condition":{"test":"datum.g=='r'","value":52},"value":46}}},
{"transform":[{"filter":"datum.p==51"}],"mark":"circle","encoding":{"x":{"field":"x","type":"quantitative","scale":{"domain":[-3.225,0.373]},"axis":{"title":null,"values":[-2,0],"labels":false}},"y":{"field":"y","type":"quantitative","scale":{"domain":[-0.409,5.318]},"axis":{"title":null,"values":[0,2,4],"labels":false}},"color":{"field":"g","type":"nominal","legend":null},"size":{"condition":{"test":"datum.g=='r'","value":52},"value":46}}},
{"transform":[{"filter":"datum.p==52"}],"mark":"circle","encoding":{"x":{"field":"x","type":"quantitative","scale":{"domain":[-3.225,0.373]},"axis":{"title":null,"values":[-2,0],"labels":false}},"y":{"field":"y","type":"quantitative","scale":{"domain":[-0.409,5.318]},"axis":{"title":null,"values":[0,2,4],"labels":false}},"color":{"field":"g","type":"nominal","legend":null},"size":{"condition":{"test":"datum.g=='r'","value":52},"value":46}}},
{"transform":[{"filter":"datum.p==53"}],"mark":"circle","encoding":{"x":{"field":"x","type":"quantitative","scale":{"domain":[-3.225,0.373]},"axis":{"title":null,"values":[-2,0],"labels":false}},"y":{"field":"y","type":"quantitative","scale":{"domain":[-0.409,5.318]},"axis":{"title":null,"values":[0,2,4],"labels":false}},"color":{"field":"g","type":"nominal","legend":null},"size":{"condition":{"test":"datum.g=='r'","value":52},"value":46}}},
{"transform":[{"filter":"datum.p==54"}],"mark":"circle","encoding":{"x":{"field":"x","type":"quantitative","scale":{"domain":[-3.225,0.373]},"axis":{"title":null,"values":[-2,0],"labels":false}},"y":{"field":"y","type":"quantitative","scale":{"domain":[-0.409,5.318]},"axis":{"title":null,"values":[0,2,4],"labels":false}},"color":{"field":"g","type":"nominal","legend":null},"size":{"condition":{"test":"datum.g=='r'","value":52},"value":46}}},
{"transform":[{"filter":"datum.p==55"}],"mark":"circle","encoding":{"x":{"field":"x","type":"quantitative","scale":{"domain":[-3.225,0.373]},"axis":{"title":null,"values":[-2,0],"labels":false}},"y":{"field":"y","type":"quantitative","scale":{"domain":[-0.409,5.318]},"axis":{"title":null,"values":[0,2,4],"labels":false}},"color":{"field":"g","type":"nominal","legend":null},"size":{"condition":{"test":"datum.g=='r'","value":52},"value":46}}},
{"transform":[{"filter":"datum.p==56"}],"mark":"circle","encoding":{"x":{"field":"x","type":"quantitative","scale":{"domain":[-3.225,0.373]},"axis":{"title":null,"values":[-2,0],"labels":true}},"y":{"field":"y","type":"quantitative","scale":{"domain":[-0.409,5.318]},"axis":{"title":null,"values":[0,2,4],"labels":true}},"color":{"field":"g","type":"nominal","legend":null},"size":{"condition":{"test":"datum.g=='r'","value":52},"value":46}}},
{"transform":[{"filter":"datum.p==57"}],"mark":"circle","encoding":{"x":{"field":"x","type":"quantitative","scale":{"domain":[-3.225,0.373]},"axis":{"title":null,"values":[-2,0],"labels":true}},"y":{"field":"y","type":"quantitative","scale":{"domain":[-0.409,5.318]},"axis":{"title":null,"values":[0,2,4],"labels":false}},"color":{"field":"g","type":"nominal","legend":null},"size":{"condition":{"test":"datum.g=='r'","value":52},"value":46}}},
{"transform":[{"filter":"datum.p==58"}],"mark":"circle","encoding":{"x":{"field":"x","type":"quantitative","scale":{"domain":[-3.225,0.373]},"axis":{"title":null,"values":[-2,0],"labels":true}},"y":{"field":"y","type":"quantitative","scale":{"domain":[-0.409,5.318]},"axis":{"title":null,"values":[0,2,4],"labels":false}},"color":{"field":"g","type":"nominal","legend":null},"size":{"condition":{"test":"datum.g=='r'","value":52},"value":46}}},
{"transform":[{"filter":"datum.p==59"}],"mark":"circle","encoding":{"x":{"field":"x","type":"quantitative","scale":{"domain":[-3.225,0.373]},"axis":{"title":null,"values":[-2,0],"labels":true}},"y":{"field":"y","type":"quantitative","scale":{"domain":[-0.409,5.318]},"axis":{"title":null,"values":[0,2,4],"labels":false}},"color":{"field":"g","type":"nominal","legend":null},"size":{"condition":{"test":"datum.g=='r'","value":52},"value":46}}},
{"transform":[{"filter":"datum.p==60"}],"mark":"circle","encoding":{"x":{"field":"x","type":"quantitative","scale":{"domain":[-3.225,0.373]},"axis":{"title":null,"values":[-2,0],"labels":true}},"y":{"field":"y","type":"quantitative","scale":{"domain":[-0.409,5.318]},"axis":{"title":null,"values":[0,2,4],"labels":false}},"color":{"field":"g","type":"nominal","legend":null},"size":{"condition":{"test":"datum.g=='r'","value":52},"value":46}}},
{"transform":[{"filter":"datum.p==61"}],"mark":"circle","encoding":{"x":{"field":"x","type":"quantitative","scale":{"domain":[-3.225,0.373]},"axis":{"title":null,"values":[-2,0],"labels":true}},"y":{"field":"y","type":"quantitative","scale":{"domain":[-0.409,5.318]},"axis":{"title":null,"values":[0,2,4],"labels":false}},"color":{"field":"g","type":"nominal","legend":null},"size":{"condition":{"test":"datum.g=='r'","value":52},"value":46}}},
{"transform":[{"filter":"datum.p==62"}],"mark":"circle","encoding":{"x":{"field":"x","type":"quantitative","scale":{"domain":[-3.225,0.373]},"axis":{"title":null,"values":[-2,0],"labels":true}},"y":{"field":"y","type":"quantitative","scale":{"domain":[-0.409,5.318]},"axis":{"title":null,"values":[0,2,4],"labels":false}},"color":{"field":"g","type":"nominal","legend":null},"size":{"condition":{"test":"datum.g=='r'","value":52},"value":46}}},
{"transform":[{"filter":"datum.p==63"}],"mark":"circle","encoding":{"x":{"field":"x","type":"quantitative","scale":{"domain":[-3.225,0.373]},"axis":{"title":null,"values":[-2,0],"labels":true}},"y":{"field":"y","type":"quantitative","scale":{"domain":[-0.409,5.318]},"axis":{"title":null,"values":[0,2,4],"labels":false}},"color":{"field":"g","type":"nominal","legend":null},"size":{"condition":{"test":"datum.g=='r'","value":52},"value":46}}}
]
}
